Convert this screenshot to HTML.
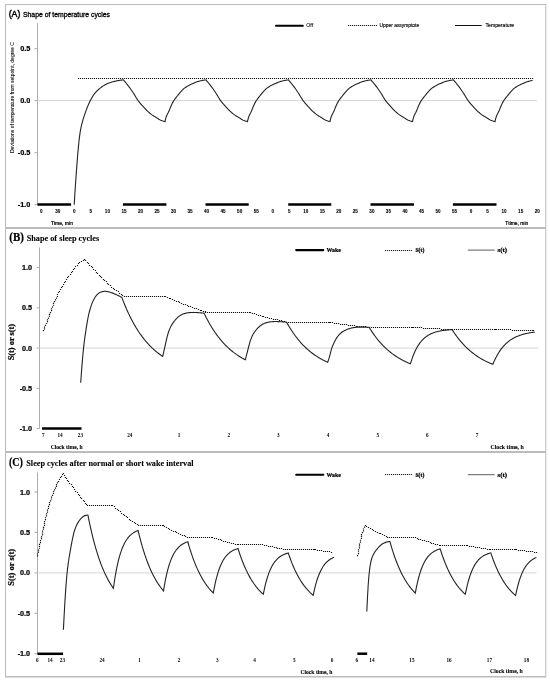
<!DOCTYPE html>
<html><head><meta charset="utf-8"><title>Temperature and sleep cycles</title>
<style>
html,body{margin:0;padding:0;background:#fff;}
body{width:550px;height:681px;overflow:hidden;font-family:"Liberation Sans",sans-serif;}
svg{display:block;will-change:transform;}
</style></head>
<body>
<svg width="550" height="681" viewBox="0 0 550 681">
<style>text{fill:#000;stroke:#000;stroke-width:0.22px;} text.ns{stroke:none;} text.ls{stroke-width:0.08px;}</style>
<rect x="0" y="0" width="550" height="681" fill="#fff"/>
<rect x="5.5" y="4.5" width="540.3" height="223.0" fill="none" stroke="#bcbcbc" stroke-width="1"/>
<rect x="5.5" y="228.5" width="540.3" height="223.0" fill="none" stroke="#bcbcbc" stroke-width="1"/>
<rect x="5.5" y="452.5" width="540.3" height="224.0" fill="none" stroke="#bcbcbc" stroke-width="1"/>
<line x1="5" y1="676.9" x2="546" y2="676.9" stroke="#bcbcbc" stroke-width="1.2"/>
<text x="8.7" y="16.7" font-family="'Liberation Sans', sans-serif" font-size="9.0" font-weight="normal" text-anchor="start" textLength="11.6" lengthAdjust="spacingAndGlyphs" style="stroke-width:0.45px">(A)</text>
<text x="23" y="16.9" font-family="'Liberation Sans', sans-serif" font-size="7.3" font-weight="normal" text-anchor="start" textLength="87" lengthAdjust="spacingAndGlyphs" style="stroke-width:0.3px">Shape of temperature cycles</text>
<line x1="276" y1="25.7" x2="302.8" y2="25.7" stroke="#000" stroke-width="2.0" stroke-linecap="round"/>
<text x="306.3" y="27.2" font-family="'Liberation Sans', sans-serif" font-size="5.2" font-weight="normal" text-anchor="start" class="ls">Off</text>
<path d="M347.90,24.90h1.2v1.2h-1.2zM349.90,24.90h1.2v1.2h-1.2zM351.90,24.90h1.2v1.2h-1.2zM353.90,24.90h1.2v1.2h-1.2zM355.90,24.90h1.2v1.2h-1.2zM357.90,24.90h1.2v1.2h-1.2zM359.90,24.90h1.2v1.2h-1.2zM361.90,24.90h1.2v1.2h-1.2zM363.90,24.90h1.2v1.2h-1.2zM365.90,24.90h1.2v1.2h-1.2zM367.90,24.90h1.2v1.2h-1.2zM369.90,24.90h1.2v1.2h-1.2zM371.90,24.90h1.2v1.2h-1.2zM373.90,24.90h1.2v1.2h-1.2zM375.90,24.90h1.2v1.2h-1.2z" fill="#222"/>
<text x="379.6" y="27.3" font-family="'Liberation Sans', sans-serif" font-size="5.0" font-weight="normal" text-anchor="start" textLength="39.5" lengthAdjust="spacingAndGlyphs" style="stroke-width:0.14px">Upper assymptote</text>
<line x1="455" y1="25.5" x2="481.7" y2="25.5" stroke="#111" stroke-width="1.0" />
<text x="485.5" y="27.1" font-family="'Liberation Sans', sans-serif" font-size="5.1" font-weight="normal" text-anchor="start" textLength="28.7" lengthAdjust="spacingAndGlyphs" style="stroke-width:0.14px">Temperature</text>
<line x1="37.5" y1="23" x2="37.5" y2="204.6" stroke="#acacac" stroke-width="1"/>
<line x1="37.4" y1="100.6" x2="537" y2="100.6" stroke="#d4d4d4" stroke-width="1" />
<line x1="34.6" y1="48.599999999999994" x2="37.4" y2="48.599999999999994" stroke="#acacac" stroke-width="1" />
<text x="30.4" y="51.199999999999996" font-family="'Liberation Sans', sans-serif" font-size="7.3" font-weight="bold" text-anchor="end" >0.5</text>
<line x1="34.6" y1="100.6" x2="37.4" y2="100.6" stroke="#acacac" stroke-width="1" />
<text x="30.4" y="103.19999999999999" font-family="'Liberation Sans', sans-serif" font-size="7.3" font-weight="bold" text-anchor="end" >0.0</text>
<line x1="34.6" y1="152.6" x2="37.4" y2="152.6" stroke="#acacac" stroke-width="1" />
<text x="30.4" y="155.2" font-family="'Liberation Sans', sans-serif" font-size="7.3" font-weight="bold" text-anchor="end" >-0.5</text>
<line x1="34.6" y1="204.6" x2="37.4" y2="204.6" stroke="#acacac" stroke-width="1" />
<text x="30.4" y="207.2" font-family="'Liberation Sans', sans-serif" font-size="7.3" font-weight="bold" text-anchor="end" >-1.0</text>
<text transform="translate(13.6,97.6) rotate(-90)" font-family="'Liberation Sans', sans-serif" font-size="5.0" text-anchor="middle" textLength="111" lengthAdjust="spacingAndGlyphs" class="ls">Deviations of temperature from setpoint,  degree C</text>
<text x="41.30" y="212.8" font-family="'Liberation Sans', sans-serif" font-size="4.6" font-weight="bold" text-anchor="middle" class="ls">0</text>
<text x="57.83" y="212.8" font-family="'Liberation Sans', sans-serif" font-size="4.6" font-weight="bold" text-anchor="middle" class="ls">30</text>
<text x="74.36" y="212.8" font-family="'Liberation Sans', sans-serif" font-size="4.6" font-weight="bold" text-anchor="middle" class="ls">0</text>
<text x="90.89" y="212.8" font-family="'Liberation Sans', sans-serif" font-size="4.6" font-weight="bold" text-anchor="middle" class="ls">5</text>
<text x="107.42" y="212.8" font-family="'Liberation Sans', sans-serif" font-size="4.6" font-weight="bold" text-anchor="middle" class="ls">10</text>
<text x="123.95" y="212.8" font-family="'Liberation Sans', sans-serif" font-size="4.6" font-weight="bold" text-anchor="middle" class="ls">15</text>
<text x="140.48" y="212.8" font-family="'Liberation Sans', sans-serif" font-size="4.6" font-weight="bold" text-anchor="middle" class="ls">20</text>
<text x="157.01" y="212.8" font-family="'Liberation Sans', sans-serif" font-size="4.6" font-weight="bold" text-anchor="middle" class="ls">25</text>
<text x="173.54" y="212.8" font-family="'Liberation Sans', sans-serif" font-size="4.6" font-weight="bold" text-anchor="middle" class="ls">30</text>
<text x="190.07" y="212.8" font-family="'Liberation Sans', sans-serif" font-size="4.6" font-weight="bold" text-anchor="middle" class="ls">35</text>
<text x="206.60" y="212.8" font-family="'Liberation Sans', sans-serif" font-size="4.6" font-weight="bold" text-anchor="middle" class="ls">40</text>
<text x="223.13" y="212.8" font-family="'Liberation Sans', sans-serif" font-size="4.6" font-weight="bold" text-anchor="middle" class="ls">45</text>
<text x="239.66" y="212.8" font-family="'Liberation Sans', sans-serif" font-size="4.6" font-weight="bold" text-anchor="middle" class="ls">50</text>
<text x="256.19" y="212.8" font-family="'Liberation Sans', sans-serif" font-size="4.6" font-weight="bold" text-anchor="middle" class="ls">55</text>
<text x="272.72" y="212.8" font-family="'Liberation Sans', sans-serif" font-size="4.6" font-weight="bold" text-anchor="middle" class="ls">0</text>
<text x="289.25" y="212.8" font-family="'Liberation Sans', sans-serif" font-size="4.6" font-weight="bold" text-anchor="middle" class="ls">5</text>
<text x="305.78" y="212.8" font-family="'Liberation Sans', sans-serif" font-size="4.6" font-weight="bold" text-anchor="middle" class="ls">10</text>
<text x="322.31" y="212.8" font-family="'Liberation Sans', sans-serif" font-size="4.6" font-weight="bold" text-anchor="middle" class="ls">15</text>
<text x="338.84" y="212.8" font-family="'Liberation Sans', sans-serif" font-size="4.6" font-weight="bold" text-anchor="middle" class="ls">20</text>
<text x="355.37" y="212.8" font-family="'Liberation Sans', sans-serif" font-size="4.6" font-weight="bold" text-anchor="middle" class="ls">25</text>
<text x="371.90" y="212.8" font-family="'Liberation Sans', sans-serif" font-size="4.6" font-weight="bold" text-anchor="middle" class="ls">30</text>
<text x="388.43" y="212.8" font-family="'Liberation Sans', sans-serif" font-size="4.6" font-weight="bold" text-anchor="middle" class="ls">35</text>
<text x="404.96" y="212.8" font-family="'Liberation Sans', sans-serif" font-size="4.6" font-weight="bold" text-anchor="middle" class="ls">40</text>
<text x="421.49" y="212.8" font-family="'Liberation Sans', sans-serif" font-size="4.6" font-weight="bold" text-anchor="middle" class="ls">45</text>
<text x="438.02" y="212.8" font-family="'Liberation Sans', sans-serif" font-size="4.6" font-weight="bold" text-anchor="middle" class="ls">50</text>
<text x="454.55" y="212.8" font-family="'Liberation Sans', sans-serif" font-size="4.6" font-weight="bold" text-anchor="middle" class="ls">55</text>
<text x="471.08" y="212.8" font-family="'Liberation Sans', sans-serif" font-size="4.6" font-weight="bold" text-anchor="middle" class="ls">0</text>
<text x="487.61" y="212.8" font-family="'Liberation Sans', sans-serif" font-size="4.6" font-weight="bold" text-anchor="middle" class="ls">5</text>
<text x="504.14" y="212.8" font-family="'Liberation Sans', sans-serif" font-size="4.6" font-weight="bold" text-anchor="middle" class="ls">10</text>
<text x="520.67" y="212.8" font-family="'Liberation Sans', sans-serif" font-size="4.6" font-weight="bold" text-anchor="middle" class="ls">15</text>
<text x="537.20" y="212.8" font-family="'Liberation Sans', sans-serif" font-size="4.6" font-weight="bold" text-anchor="middle" class="ls">20</text>
<text x="51" y="225" font-family="'Liberation Sans', sans-serif" font-size="5.1" font-weight="normal" text-anchor="start" textLength="22" lengthAdjust="spacingAndGlyphs" >Time, min</text>
<text x="505.3" y="225" font-family="'Liberation Sans', sans-serif" font-size="5.0" font-weight="normal" text-anchor="start" textLength="23" lengthAdjust="spacingAndGlyphs" >Ttime, min</text>
<line x1="37.4" y1="204.5" x2="71.1" y2="204.5" stroke="#000" stroke-width="2.5" stroke-linecap="butt"/>
<line x1="122.9" y1="204.5" x2="166.4" y2="204.5" stroke="#000" stroke-width="2.5" stroke-linecap="butt"/>
<line x1="205.5" y1="204.5" x2="248.7" y2="204.5" stroke="#000" stroke-width="2.5" stroke-linecap="butt"/>
<line x1="288.2" y1="204.5" x2="331.3" y2="204.5" stroke="#000" stroke-width="2.5" stroke-linecap="butt"/>
<line x1="370.5" y1="204.5" x2="414" y2="204.5" stroke="#000" stroke-width="2.5" stroke-linecap="butt"/>
<line x1="452.9" y1="204.5" x2="496.5" y2="204.5" stroke="#000" stroke-width="2.5" stroke-linecap="butt"/>
<path d="M77.95,77.95h1.1v1.1h-1.1zM79.95,77.95h1.1v1.1h-1.1zM81.95,77.95h1.1v1.1h-1.1zM83.95,77.95h1.1v1.1h-1.1zM85.95,77.95h1.1v1.1h-1.1zM87.95,77.95h1.1v1.1h-1.1zM89.95,77.95h1.1v1.1h-1.1zM91.95,77.95h1.1v1.1h-1.1zM93.95,77.95h1.1v1.1h-1.1zM95.95,77.95h1.1v1.1h-1.1zM97.95,77.95h1.1v1.1h-1.1zM99.95,77.95h1.1v1.1h-1.1zM101.95,77.95h1.1v1.1h-1.1zM103.95,77.95h1.1v1.1h-1.1zM105.95,77.95h1.1v1.1h-1.1zM107.95,77.95h1.1v1.1h-1.1zM109.95,77.95h1.1v1.1h-1.1zM111.95,77.95h1.1v1.1h-1.1zM113.95,77.95h1.1v1.1h-1.1zM115.95,77.95h1.1v1.1h-1.1zM117.95,77.95h1.1v1.1h-1.1zM119.95,77.95h1.1v1.1h-1.1zM121.95,77.95h1.1v1.1h-1.1zM123.95,77.95h1.1v1.1h-1.1zM125.95,77.95h1.1v1.1h-1.1zM127.95,77.95h1.1v1.1h-1.1zM129.95,77.95h1.1v1.1h-1.1zM131.95,77.95h1.1v1.1h-1.1zM133.95,77.95h1.1v1.1h-1.1zM135.95,77.95h1.1v1.1h-1.1zM137.95,77.95h1.1v1.1h-1.1zM139.95,77.95h1.1v1.1h-1.1zM141.95,77.95h1.1v1.1h-1.1zM143.95,77.95h1.1v1.1h-1.1zM145.95,77.95h1.1v1.1h-1.1zM147.95,77.95h1.1v1.1h-1.1zM149.95,77.95h1.1v1.1h-1.1zM151.95,77.95h1.1v1.1h-1.1zM153.95,77.95h1.1v1.1h-1.1zM155.95,77.95h1.1v1.1h-1.1zM157.95,77.95h1.1v1.1h-1.1zM159.95,77.95h1.1v1.1h-1.1zM161.95,77.95h1.1v1.1h-1.1zM163.95,77.95h1.1v1.1h-1.1zM165.95,77.95h1.1v1.1h-1.1zM167.95,77.95h1.1v1.1h-1.1zM169.95,77.95h1.1v1.1h-1.1zM171.95,77.95h1.1v1.1h-1.1zM173.95,77.95h1.1v1.1h-1.1zM175.95,77.95h1.1v1.1h-1.1zM177.95,77.95h1.1v1.1h-1.1zM179.95,77.95h1.1v1.1h-1.1zM181.95,77.95h1.1v1.1h-1.1zM183.95,77.95h1.1v1.1h-1.1zM185.95,77.95h1.1v1.1h-1.1zM187.95,77.95h1.1v1.1h-1.1zM189.95,77.95h1.1v1.1h-1.1zM191.95,77.95h1.1v1.1h-1.1zM193.95,77.95h1.1v1.1h-1.1zM195.95,77.95h1.1v1.1h-1.1zM197.95,77.95h1.1v1.1h-1.1zM199.95,77.95h1.1v1.1h-1.1zM201.95,77.95h1.1v1.1h-1.1zM203.95,77.95h1.1v1.1h-1.1zM205.95,77.95h1.1v1.1h-1.1zM207.95,77.95h1.1v1.1h-1.1zM209.95,77.95h1.1v1.1h-1.1zM211.95,77.95h1.1v1.1h-1.1zM213.95,77.95h1.1v1.1h-1.1zM215.95,77.95h1.1v1.1h-1.1zM217.95,77.95h1.1v1.1h-1.1zM219.95,77.95h1.1v1.1h-1.1zM221.95,77.95h1.1v1.1h-1.1zM223.95,77.95h1.1v1.1h-1.1zM225.95,77.95h1.1v1.1h-1.1zM227.95,77.95h1.1v1.1h-1.1zM229.95,77.95h1.1v1.1h-1.1zM231.95,77.95h1.1v1.1h-1.1zM233.95,77.95h1.1v1.1h-1.1zM235.95,77.95h1.1v1.1h-1.1zM237.95,77.95h1.1v1.1h-1.1zM239.95,77.95h1.1v1.1h-1.1zM241.95,77.95h1.1v1.1h-1.1zM243.95,77.95h1.1v1.1h-1.1zM245.95,77.95h1.1v1.1h-1.1zM247.95,77.95h1.1v1.1h-1.1zM249.95,77.95h1.1v1.1h-1.1zM251.95,77.95h1.1v1.1h-1.1zM253.95,77.95h1.1v1.1h-1.1zM255.95,77.95h1.1v1.1h-1.1zM257.95,77.95h1.1v1.1h-1.1zM259.95,77.95h1.1v1.1h-1.1zM261.95,77.95h1.1v1.1h-1.1zM263.95,77.95h1.1v1.1h-1.1zM265.95,77.95h1.1v1.1h-1.1zM267.95,77.95h1.1v1.1h-1.1zM269.95,77.95h1.1v1.1h-1.1zM271.95,77.95h1.1v1.1h-1.1zM273.95,77.95h1.1v1.1h-1.1zM275.95,77.95h1.1v1.1h-1.1zM277.95,77.95h1.1v1.1h-1.1zM279.95,77.95h1.1v1.1h-1.1zM281.95,77.95h1.1v1.1h-1.1zM283.95,77.95h1.1v1.1h-1.1zM285.95,77.95h1.1v1.1h-1.1zM287.95,77.95h1.1v1.1h-1.1zM289.95,77.95h1.1v1.1h-1.1zM291.95,77.95h1.1v1.1h-1.1zM293.95,77.95h1.1v1.1h-1.1zM295.95,77.95h1.1v1.1h-1.1zM297.95,77.95h1.1v1.1h-1.1zM299.95,77.95h1.1v1.1h-1.1zM301.95,77.95h1.1v1.1h-1.1zM303.95,77.95h1.1v1.1h-1.1zM305.95,77.95h1.1v1.1h-1.1zM307.95,77.95h1.1v1.1h-1.1zM309.95,77.95h1.1v1.1h-1.1zM311.95,77.95h1.1v1.1h-1.1zM313.95,77.95h1.1v1.1h-1.1zM315.95,77.95h1.1v1.1h-1.1zM317.95,77.95h1.1v1.1h-1.1zM319.95,77.95h1.1v1.1h-1.1zM321.95,77.95h1.1v1.1h-1.1zM323.95,77.95h1.1v1.1h-1.1zM325.95,77.95h1.1v1.1h-1.1zM327.95,77.95h1.1v1.1h-1.1zM329.95,77.95h1.1v1.1h-1.1zM331.95,77.95h1.1v1.1h-1.1zM333.95,77.95h1.1v1.1h-1.1zM335.95,77.95h1.1v1.1h-1.1zM337.95,77.95h1.1v1.1h-1.1zM339.95,77.95h1.1v1.1h-1.1zM341.95,77.95h1.1v1.1h-1.1zM343.95,77.95h1.1v1.1h-1.1zM345.95,77.95h1.1v1.1h-1.1zM347.95,77.95h1.1v1.1h-1.1zM349.95,77.95h1.1v1.1h-1.1zM351.95,77.95h1.1v1.1h-1.1zM353.95,77.95h1.1v1.1h-1.1zM355.95,77.95h1.1v1.1h-1.1zM357.95,77.95h1.1v1.1h-1.1zM359.95,77.95h1.1v1.1h-1.1zM361.95,77.95h1.1v1.1h-1.1zM363.95,77.95h1.1v1.1h-1.1zM365.95,77.95h1.1v1.1h-1.1zM367.95,77.95h1.1v1.1h-1.1zM369.95,77.95h1.1v1.1h-1.1zM371.95,77.95h1.1v1.1h-1.1zM373.95,77.95h1.1v1.1h-1.1zM375.95,77.95h1.1v1.1h-1.1zM377.95,77.95h1.1v1.1h-1.1zM379.95,77.95h1.1v1.1h-1.1zM381.95,77.95h1.1v1.1h-1.1zM383.95,77.95h1.1v1.1h-1.1zM385.95,77.95h1.1v1.1h-1.1zM387.95,77.95h1.1v1.1h-1.1zM389.95,77.95h1.1v1.1h-1.1zM391.95,77.95h1.1v1.1h-1.1zM393.95,77.95h1.1v1.1h-1.1zM395.95,77.95h1.1v1.1h-1.1zM397.95,77.95h1.1v1.1h-1.1zM399.95,77.95h1.1v1.1h-1.1zM401.95,77.95h1.1v1.1h-1.1zM403.95,77.95h1.1v1.1h-1.1zM405.95,77.95h1.1v1.1h-1.1zM407.95,77.95h1.1v1.1h-1.1zM409.95,77.95h1.1v1.1h-1.1zM411.95,77.95h1.1v1.1h-1.1zM413.95,77.95h1.1v1.1h-1.1zM415.95,77.95h1.1v1.1h-1.1zM417.95,77.95h1.1v1.1h-1.1zM419.95,77.95h1.1v1.1h-1.1zM421.95,77.95h1.1v1.1h-1.1zM423.95,77.95h1.1v1.1h-1.1zM425.95,77.95h1.1v1.1h-1.1zM427.95,77.95h1.1v1.1h-1.1zM429.95,77.95h1.1v1.1h-1.1zM431.95,77.95h1.1v1.1h-1.1zM433.95,77.95h1.1v1.1h-1.1zM435.95,77.95h1.1v1.1h-1.1zM437.95,77.95h1.1v1.1h-1.1zM439.95,77.95h1.1v1.1h-1.1zM441.95,77.95h1.1v1.1h-1.1zM443.95,77.95h1.1v1.1h-1.1zM445.95,77.95h1.1v1.1h-1.1zM447.95,77.95h1.1v1.1h-1.1zM449.95,77.95h1.1v1.1h-1.1zM451.95,77.95h1.1v1.1h-1.1zM453.95,77.95h1.1v1.1h-1.1zM455.95,77.95h1.1v1.1h-1.1zM457.95,77.95h1.1v1.1h-1.1zM459.95,77.95h1.1v1.1h-1.1zM461.95,77.95h1.1v1.1h-1.1zM463.95,77.95h1.1v1.1h-1.1zM465.95,77.95h1.1v1.1h-1.1zM467.95,77.95h1.1v1.1h-1.1zM469.95,77.95h1.1v1.1h-1.1zM471.95,77.95h1.1v1.1h-1.1zM473.95,77.95h1.1v1.1h-1.1zM475.95,77.95h1.1v1.1h-1.1zM477.95,77.95h1.1v1.1h-1.1zM479.95,77.95h1.1v1.1h-1.1zM481.95,77.95h1.1v1.1h-1.1zM483.95,77.95h1.1v1.1h-1.1zM485.95,77.95h1.1v1.1h-1.1zM487.95,77.95h1.1v1.1h-1.1zM489.95,77.95h1.1v1.1h-1.1zM491.95,77.95h1.1v1.1h-1.1zM493.95,77.95h1.1v1.1h-1.1zM495.95,77.95h1.1v1.1h-1.1zM497.95,77.95h1.1v1.1h-1.1zM499.95,77.95h1.1v1.1h-1.1zM501.95,77.95h1.1v1.1h-1.1zM503.95,77.95h1.1v1.1h-1.1zM505.95,77.95h1.1v1.1h-1.1zM507.95,77.95h1.1v1.1h-1.1zM509.95,77.95h1.1v1.1h-1.1zM511.95,77.95h1.1v1.1h-1.1zM513.95,77.95h1.1v1.1h-1.1zM515.95,77.95h1.1v1.1h-1.1zM517.95,77.95h1.1v1.1h-1.1zM519.95,77.95h1.1v1.1h-1.1zM521.95,77.95h1.1v1.1h-1.1zM523.95,77.95h1.1v1.1h-1.1zM525.95,77.95h1.1v1.1h-1.1zM527.95,77.95h1.1v1.1h-1.1zM529.95,77.95h1.1v1.1h-1.1zM531.95,77.95h1.1v1.1h-1.1z" fill="#111"/>
<path d="M74.20,204.60 L74.88,193.59 L75.57,183.27 L76.25,173.57 L76.94,164.41 L77.62,155.81 L78.31,148.09 L78.99,140.94 L79.68,135.34 L80.36,130.82 L81.05,127.32 L81.73,124.44 L82.42,121.88 L83.10,119.47 L83.79,117.21 L84.47,115.08 L85.16,113.07 L85.84,111.16 L86.53,109.33 L87.21,107.56 L87.89,105.86 L88.58,104.25 L89.26,102.75 L89.95,101.34 L90.63,100.01 L91.32,98.72 L92.00,97.49 L92.69,96.33 L93.37,95.26 L94.06,94.29 L94.74,93.41 L95.43,92.61 L96.11,91.85 L96.80,91.14 L97.48,90.47 L98.17,89.84 L98.85,89.24 L99.53,88.67 L100.22,88.12 L100.90,87.58 L101.59,87.06 L102.27,86.56 L102.96,86.09 L103.64,85.64 L104.33,85.22 L105.01,84.83 L105.70,84.48 L106.38,84.16 L107.07,83.84 L107.75,83.54 L108.44,83.25 L109.12,82.98 L109.81,82.72 L110.49,82.48 L111.18,82.25 L111.86,82.03 L112.54,81.84 L113.23,81.66 L113.91,81.49 L114.60,81.34 L115.28,81.18 L115.97,81.03 L116.65,80.89 L117.34,80.75 L118.02,80.61 L118.71,80.49 L119.39,80.37 L120.08,80.26 L120.76,80.17 L121.45,80.08 L122.13,80.01 L122.82,79.95 L123.50,79.90 L123.50,80.11 L124.18,80.86 L124.86,81.64 L125.54,82.43 L126.22,83.25 L126.90,84.08 L127.58,84.94 L128.26,85.81 L128.94,86.69 L129.62,87.60 L130.30,88.54 L130.98,89.50 L131.66,90.48 L132.34,91.48 L133.02,92.50 L133.70,93.53 L134.39,94.62 L135.07,95.75 L135.75,96.91 L136.43,98.04 L137.11,99.14 L137.79,100.16 L138.47,101.09 L139.15,101.96 L139.83,102.78 L140.51,103.57 L141.19,104.34 L141.87,105.09 L142.55,105.85 L143.23,106.61 L143.91,107.36 L144.59,108.11 L145.27,108.84 L145.95,109.55 L146.63,110.24 L147.31,110.90 L147.99,111.53 L148.67,112.15 L149.35,112.75 L150.03,113.33 L150.71,113.89 L151.39,114.41 L152.07,114.91 L152.75,115.37 L153.43,115.81 L154.11,116.24 L154.80,116.65 L155.48,117.06 L156.16,117.47 L156.84,117.88 L157.52,118.31 L158.20,118.74 L158.88,119.16 L159.56,119.55 L160.24,119.90 L160.92,120.20 L161.60,120.47 L162.28,120.73 L162.96,120.96 L163.64,121.17 L164.32,121.35 L165.00,121.50 L165.00,121.40 L165.68,118.69 L166.37,116.42 L167.05,114.76 L167.73,113.50 L168.42,112.29 L169.10,110.83 L169.78,109.08 L170.47,107.29 L171.15,105.68 L171.83,104.21 L172.52,102.86 L173.20,101.64 L173.88,100.55 L174.57,99.54 L175.25,98.59 L175.93,97.69 L176.62,96.82 L177.30,95.98 L177.98,95.13 L178.67,94.28 L179.35,93.44 L180.03,92.60 L180.72,91.79 L181.40,91.01 L182.08,90.27 L182.77,89.58 L183.45,88.96 L184.13,88.41 L184.82,87.90 L185.50,87.43 L186.18,86.98 L186.87,86.55 L187.55,86.14 L188.23,85.75 L188.92,85.38 L189.60,85.03 L190.28,84.69 L190.97,84.36 L191.65,84.05 L192.33,83.75 L193.02,83.45 L193.70,83.16 L194.38,82.88 L195.07,82.60 L195.75,82.33 L196.43,82.07 L197.12,81.83 L197.80,81.60 L198.48,81.38 L199.17,81.18 L199.85,81.00 L200.53,80.83 L201.22,80.68 L201.90,80.54 L202.58,80.40 L203.27,80.28 L203.95,80.17 L204.63,80.06 L205.32,79.98 L206.00,79.90 L206.00,80.11 L206.68,80.86 L207.36,81.64 L208.04,82.43 L208.72,83.25 L209.40,84.08 L210.08,84.94 L210.76,85.81 L211.44,86.69 L212.12,87.60 L212.80,88.54 L213.48,89.50 L214.16,90.48 L214.84,91.48 L215.52,92.50 L216.20,93.53 L216.89,94.62 L217.57,95.75 L218.25,96.91 L218.93,98.04 L219.61,99.14 L220.29,100.16 L220.97,101.09 L221.65,101.96 L222.33,102.78 L223.01,103.57 L223.69,104.34 L224.37,105.09 L225.05,105.85 L225.73,106.61 L226.41,107.36 L227.09,108.11 L227.77,108.84 L228.45,109.55 L229.13,110.24 L229.81,110.90 L230.49,111.53 L231.17,112.15 L231.85,112.75 L232.53,113.33 L233.21,113.89 L233.89,114.41 L234.57,114.91 L235.25,115.37 L235.93,115.81 L236.61,116.24 L237.30,116.65 L237.98,117.06 L238.66,117.47 L239.34,117.88 L240.02,118.31 L240.70,118.74 L241.38,119.16 L242.06,119.55 L242.74,119.90 L243.42,120.20 L244.10,120.47 L244.78,120.73 L245.46,120.96 L246.14,121.17 L246.82,121.35 L247.50,121.50 L247.50,121.40 L248.18,118.69 L248.87,116.42 L249.55,114.76 L250.23,113.50 L250.92,112.29 L251.60,110.83 L252.28,109.08 L252.97,107.29 L253.65,105.68 L254.33,104.21 L255.02,102.86 L255.70,101.64 L256.38,100.55 L257.07,99.54 L257.75,98.59 L258.43,97.69 L259.12,96.82 L259.80,95.98 L260.48,95.13 L261.17,94.28 L261.85,93.44 L262.53,92.60 L263.22,91.79 L263.90,91.01 L264.58,90.27 L265.27,89.58 L265.95,88.96 L266.63,88.41 L267.32,87.90 L268.00,87.43 L268.68,86.98 L269.37,86.55 L270.05,86.14 L270.73,85.75 L271.42,85.38 L272.10,85.03 L272.78,84.69 L273.47,84.36 L274.15,84.05 L274.83,83.75 L275.52,83.45 L276.20,83.16 L276.88,82.88 L277.57,82.60 L278.25,82.33 L278.93,82.07 L279.62,81.83 L280.30,81.60 L280.98,81.38 L281.67,81.18 L282.35,81.00 L283.03,80.83 L283.72,80.68 L284.40,80.54 L285.08,80.40 L285.77,80.28 L286.45,80.17 L287.13,80.06 L287.82,79.98 L288.50,79.90 L288.50,80.11 L289.18,80.86 L289.86,81.64 L290.54,82.43 L291.22,83.25 L291.90,84.08 L292.58,84.94 L293.26,85.81 L293.94,86.69 L294.62,87.60 L295.30,88.54 L295.98,89.50 L296.66,90.48 L297.34,91.48 L298.02,92.50 L298.70,93.53 L299.39,94.62 L300.07,95.75 L300.75,96.91 L301.43,98.04 L302.11,99.14 L302.79,100.16 L303.47,101.09 L304.15,101.96 L304.83,102.78 L305.51,103.57 L306.19,104.34 L306.87,105.09 L307.55,105.85 L308.23,106.61 L308.91,107.36 L309.59,108.11 L310.27,108.84 L310.95,109.55 L311.63,110.24 L312.31,110.90 L312.99,111.53 L313.67,112.15 L314.35,112.75 L315.03,113.33 L315.71,113.89 L316.39,114.41 L317.07,114.91 L317.75,115.37 L318.43,115.81 L319.11,116.24 L319.80,116.65 L320.48,117.06 L321.16,117.47 L321.84,117.88 L322.52,118.31 L323.20,118.74 L323.88,119.16 L324.56,119.55 L325.24,119.90 L325.92,120.20 L326.60,120.47 L327.28,120.73 L327.96,120.96 L328.64,121.17 L329.32,121.35 L330.00,121.50 L330.00,121.40 L330.68,118.69 L331.37,116.42 L332.05,114.76 L332.73,113.50 L333.42,112.29 L334.10,110.83 L334.78,109.08 L335.47,107.29 L336.15,105.68 L336.83,104.21 L337.52,102.86 L338.20,101.64 L338.88,100.55 L339.57,99.54 L340.25,98.59 L340.93,97.69 L341.62,96.82 L342.30,95.98 L342.98,95.13 L343.67,94.28 L344.35,93.44 L345.03,92.60 L345.72,91.79 L346.40,91.01 L347.08,90.27 L347.77,89.58 L348.45,88.96 L349.13,88.41 L349.82,87.90 L350.50,87.43 L351.18,86.98 L351.87,86.55 L352.55,86.14 L353.23,85.75 L353.92,85.38 L354.60,85.03 L355.28,84.69 L355.97,84.36 L356.65,84.05 L357.33,83.75 L358.02,83.45 L358.70,83.16 L359.38,82.88 L360.07,82.60 L360.75,82.33 L361.43,82.07 L362.12,81.83 L362.80,81.60 L363.48,81.38 L364.17,81.18 L364.85,81.00 L365.53,80.83 L366.22,80.68 L366.90,80.54 L367.58,80.40 L368.27,80.28 L368.95,80.17 L369.63,80.06 L370.32,79.98 L371.00,79.90 L371.00,80.11 L371.68,80.86 L372.36,81.64 L373.04,82.43 L373.72,83.25 L374.40,84.08 L375.08,84.94 L375.76,85.81 L376.44,86.69 L377.12,87.60 L377.80,88.54 L378.48,89.50 L379.16,90.48 L379.84,91.48 L380.52,92.50 L381.20,93.53 L381.89,94.62 L382.57,95.75 L383.25,96.91 L383.93,98.04 L384.61,99.14 L385.29,100.16 L385.97,101.09 L386.65,101.96 L387.33,102.78 L388.01,103.57 L388.69,104.34 L389.37,105.09 L390.05,105.85 L390.73,106.61 L391.41,107.36 L392.09,108.11 L392.77,108.84 L393.45,109.55 L394.13,110.24 L394.81,110.90 L395.49,111.53 L396.17,112.15 L396.85,112.75 L397.53,113.33 L398.21,113.89 L398.89,114.41 L399.57,114.91 L400.25,115.37 L400.93,115.81 L401.61,116.24 L402.30,116.65 L402.98,117.06 L403.66,117.47 L404.34,117.88 L405.02,118.31 L405.70,118.74 L406.38,119.16 L407.06,119.55 L407.74,119.90 L408.42,120.20 L409.10,120.47 L409.78,120.73 L410.46,120.96 L411.14,121.17 L411.82,121.35 L412.50,121.50 L412.50,121.40 L413.18,118.69 L413.87,116.42 L414.55,114.76 L415.23,113.50 L415.92,112.29 L416.60,110.83 L417.28,109.08 L417.97,107.29 L418.65,105.68 L419.33,104.21 L420.02,102.86 L420.70,101.64 L421.38,100.55 L422.07,99.54 L422.75,98.59 L423.43,97.69 L424.12,96.82 L424.80,95.98 L425.48,95.13 L426.17,94.28 L426.85,93.44 L427.53,92.60 L428.22,91.79 L428.90,91.01 L429.58,90.27 L430.27,89.58 L430.95,88.96 L431.63,88.41 L432.32,87.90 L433.00,87.43 L433.68,86.98 L434.37,86.55 L435.05,86.14 L435.73,85.75 L436.42,85.38 L437.10,85.03 L437.78,84.69 L438.47,84.36 L439.15,84.05 L439.83,83.75 L440.52,83.45 L441.20,83.16 L441.88,82.88 L442.57,82.60 L443.25,82.33 L443.93,82.07 L444.62,81.83 L445.30,81.60 L445.98,81.38 L446.67,81.18 L447.35,81.00 L448.03,80.83 L448.72,80.68 L449.40,80.54 L450.08,80.40 L450.77,80.28 L451.45,80.17 L452.13,80.06 L452.82,79.98 L453.50,79.90 L453.50,80.11 L454.18,80.86 L454.86,81.64 L455.54,82.43 L456.22,83.25 L456.90,84.08 L457.58,84.94 L458.26,85.81 L458.94,86.69 L459.62,87.60 L460.30,88.54 L460.98,89.50 L461.66,90.48 L462.34,91.48 L463.02,92.50 L463.70,93.53 L464.39,94.62 L465.07,95.75 L465.75,96.91 L466.43,98.04 L467.11,99.14 L467.79,100.16 L468.47,101.09 L469.15,101.96 L469.83,102.78 L470.51,103.57 L471.19,104.34 L471.87,105.09 L472.55,105.85 L473.23,106.61 L473.91,107.36 L474.59,108.11 L475.27,108.84 L475.95,109.55 L476.63,110.24 L477.31,110.90 L477.99,111.53 L478.67,112.15 L479.35,112.75 L480.03,113.33 L480.71,113.89 L481.39,114.41 L482.07,114.91 L482.75,115.37 L483.43,115.81 L484.11,116.24 L484.80,116.65 L485.48,117.06 L486.16,117.47 L486.84,117.88 L487.52,118.31 L488.20,118.74 L488.88,119.16 L489.56,119.55 L490.24,119.90 L490.92,120.20 L491.60,120.47 L492.28,120.73 L492.96,120.96 L493.64,121.17 L494.32,121.35 L495.00,121.50 L495.00,121.40 L495.68,118.69 L496.37,116.42 L497.05,114.76 L497.73,113.50 L498.42,112.29 L499.10,110.83 L499.78,109.08 L500.47,107.29 L501.15,105.68 L501.83,104.21 L502.52,102.86 L503.20,101.64 L503.88,100.55 L504.57,99.54 L505.25,98.59 L505.93,97.69 L506.62,96.82 L507.30,95.98 L507.98,95.13 L508.67,94.28 L509.35,93.44 L510.03,92.60 L510.72,91.79 L511.40,91.01 L512.08,90.27 L512.77,89.58 L513.45,88.96 L514.13,88.41 L514.82,87.90 L515.50,87.43 L516.18,86.98 L516.87,86.55 L517.55,86.14 L518.23,85.75 L518.92,85.38 L519.60,85.03 L520.28,84.69 L520.97,84.36 L521.65,84.05 L522.33,83.75 L523.02,83.45 L523.70,83.16 L524.38,82.88 L525.07,82.60 L525.75,82.33 L526.43,82.07 L527.12,81.83 L527.80,81.60 L528.48,81.38 L529.17,81.18 L529.85,81.00 L530.53,80.83 L531.22,80.68 L531.90,80.54 L532.58,80.40" fill="none" stroke="#222" stroke-width="1.1"/>
<text x="9.3" y="241.4" font-family="'Liberation Serif', serif" font-size="11.6" font-weight="bold" text-anchor="start" textLength="14.6" lengthAdjust="spacingAndGlyphs" >(B)</text>
<text x="26.7" y="241.3" font-family="'Liberation Serif', serif" font-size="8.2" font-weight="bold" text-anchor="start" textLength="72.5" lengthAdjust="spacingAndGlyphs" class="ls">Shape of sleep cycles</text>
<line x1="296.2" y1="250.1" x2="323.3" y2="250.1" stroke="#000" stroke-width="2.1" stroke-linecap="round"/>
<text x="326.6" y="252.0" font-family="'Liberation Serif', serif" font-size="5.6" font-weight="bold" text-anchor="start" textLength="14.2" lengthAdjust="spacingAndGlyphs" >Wake</text>
<path d="M384.90,249.90h1.2v1.2h-1.2zM386.90,249.90h1.2v1.2h-1.2zM388.90,249.90h1.2v1.2h-1.2zM390.90,249.90h1.2v1.2h-1.2zM392.90,249.90h1.2v1.2h-1.2zM394.90,249.90h1.2v1.2h-1.2zM396.90,249.90h1.2v1.2h-1.2zM398.90,249.90h1.2v1.2h-1.2zM400.90,249.90h1.2v1.2h-1.2zM402.90,249.90h1.2v1.2h-1.2zM404.90,249.90h1.2v1.2h-1.2zM406.90,249.90h1.2v1.2h-1.2zM408.90,249.90h1.2v1.2h-1.2zM410.90,249.90h1.2v1.2h-1.2z" fill="#222"/>
<text x="415.4" y="252.0" font-family="'Liberation Serif', serif" font-size="5.6" font-weight="bold" text-anchor="start" textLength="8.9" lengthAdjust="spacingAndGlyphs" >S(t)</text>
<line x1="467.8" y1="250.1" x2="494.6" y2="250.1" stroke="#333" stroke-width="0.8" />
<text x="497.6" y="252.0" font-family="'Liberation Serif', serif" font-size="5.6" font-weight="bold" text-anchor="start" textLength="9.5" lengthAdjust="spacingAndGlyphs" >s(t)</text>
<line x1="39.5" y1="247.4" x2="39.5" y2="428.6" stroke="#acacac" stroke-width="1"/>
<line x1="39.4" y1="348.1" x2="538.4" y2="348.1" stroke="#d4d4d4" stroke-width="1" />
<line x1="36.6" y1="267.6" x2="39.4" y2="267.6" stroke="#acacac" stroke-width="1" />
<text x="32.1" y="270.15000000000003" font-family="'Liberation Sans', sans-serif" font-size="7.2" font-weight="bold" text-anchor="end" >1.0</text>
<line x1="36.6" y1="307.85" x2="39.4" y2="307.85" stroke="#acacac" stroke-width="1" />
<text x="32.1" y="310.40000000000003" font-family="'Liberation Sans', sans-serif" font-size="7.2" font-weight="bold" text-anchor="end" >0.5</text>
<line x1="36.6" y1="348.1" x2="39.4" y2="348.1" stroke="#acacac" stroke-width="1" />
<text x="32.1" y="350.65000000000003" font-family="'Liberation Sans', sans-serif" font-size="7.2" font-weight="bold" text-anchor="end" >0.0</text>
<line x1="36.6" y1="388.35" x2="39.4" y2="388.35" stroke="#acacac" stroke-width="1" />
<text x="32.1" y="390.90000000000003" font-family="'Liberation Sans', sans-serif" font-size="7.2" font-weight="bold" text-anchor="end" >-0.5</text>
<line x1="36.6" y1="428.6" x2="39.4" y2="428.6" stroke="#acacac" stroke-width="1" />
<text x="32.1" y="431.15000000000003" font-family="'Liberation Sans', sans-serif" font-size="7.2" font-weight="bold" text-anchor="end" >-1.0</text>
<text transform="translate(14.4,342.1) rotate(-90)" font-family="'Liberation Serif', serif" font-size="7.3" font-weight="bold" text-anchor="middle" textLength="36.5" lengthAdjust="spacingAndGlyphs">S(t) or s(t)</text>
<text x="43.3" y="437" font-family="'Liberation Serif', serif" font-size="5.2" font-weight="bold" text-anchor="middle" class="ns">7</text>
<text x="60" y="437" font-family="'Liberation Serif', serif" font-size="5.2" font-weight="bold" text-anchor="middle" class="ns">14</text>
<text x="80.4" y="437" font-family="'Liberation Serif', serif" font-size="5.2" font-weight="bold" text-anchor="middle" class="ns">23</text>
<text x="129.8" y="437" font-family="'Liberation Serif', serif" font-size="5.2" font-weight="bold" text-anchor="middle" class="ns">24</text>
<text x="179" y="437" font-family="'Liberation Serif', serif" font-size="5.2" font-weight="bold" text-anchor="middle" class="ns">1</text>
<text x="228.8" y="437" font-family="'Liberation Serif', serif" font-size="5.2" font-weight="bold" text-anchor="middle" class="ns">2</text>
<text x="278.4" y="437" font-family="'Liberation Serif', serif" font-size="5.2" font-weight="bold" text-anchor="middle" class="ns">3</text>
<text x="328" y="437" font-family="'Liberation Serif', serif" font-size="5.2" font-weight="bold" text-anchor="middle" class="ns">4</text>
<text x="377.7" y="437" font-family="'Liberation Serif', serif" font-size="5.2" font-weight="bold" text-anchor="middle" class="ns">5</text>
<text x="427.4" y="437" font-family="'Liberation Serif', serif" font-size="5.2" font-weight="bold" text-anchor="middle" class="ns">6</text>
<text x="477" y="437" font-family="'Liberation Serif', serif" font-size="5.2" font-weight="bold" text-anchor="middle" class="ns">7</text>
<text x="50.7" y="449" font-family="'Liberation Serif', serif" font-size="5.6" font-weight="bold" text-anchor="start" textLength="31.9" lengthAdjust="spacingAndGlyphs" class="ls">Clock time, h</text>
<text x="490.5" y="449" font-family="'Liberation Serif', serif" font-size="5.6" font-weight="bold" text-anchor="start" textLength="33.3" lengthAdjust="spacingAndGlyphs" class="ls">Clock time, h</text>
<line x1="42" y1="428.5" x2="81.5" y2="428.5" stroke="#000" stroke-width="2.5" />
<path d="M42.90,330.10h1.2v1.2h-1.2zM43.90,328.31h1.2v1.2h-1.2zM43.90,326.51h1.2v1.2h-1.2zM44.90,324.71h1.2v1.2h-1.2zM45.90,322.90h1.2v1.2h-1.2zM46.90,321.09h1.2v1.2h-1.2zM46.90,319.27h1.2v1.2h-1.2zM47.90,317.44h1.2v1.2h-1.2zM48.90,315.60h1.2v1.2h-1.2zM48.90,313.76h1.2v1.2h-1.2zM49.90,311.93h1.2v1.2h-1.2zM50.90,310.09h1.2v1.2h-1.2zM50.90,308.26h1.2v1.2h-1.2zM51.90,306.45h1.2v1.2h-1.2zM52.90,304.63h1.2v1.2h-1.2zM52.90,302.82h1.2v1.2h-1.2zM53.90,301.02h1.2v1.2h-1.2zM54.90,299.23h1.2v1.2h-1.2zM55.90,297.45h1.2v1.2h-1.2zM56.90,295.90h1.2v1.2h-1.2zM56.90,293.90h1.2v1.2h-1.2zM57.90,291.90h1.2v1.2h-1.2zM58.90,290.90h1.2v1.2h-1.2zM59.90,288.90h1.2v1.2h-1.2zM60.90,286.90h1.2v1.2h-1.2zM61.90,285.90h1.2v1.2h-1.2zM62.90,283.90h1.2v1.2h-1.2zM63.90,281.90h1.2v1.2h-1.2zM64.90,280.90h1.2v1.2h-1.2zM65.90,278.90h1.2v1.2h-1.2zM66.90,276.90h1.2v1.2h-1.2zM67.90,275.90h1.2v1.2h-1.2zM69.90,273.90h1.2v1.2h-1.2zM70.90,271.90h1.2v1.2h-1.2zM71.90,270.90h1.2v1.2h-1.2zM72.90,268.90h1.2v1.2h-1.2zM73.90,267.90h1.2v1.2h-1.2zM74.90,265.90h1.2v1.2h-1.2zM76.90,264.90h1.2v1.2h-1.2zM77.90,262.90h1.2v1.2h-1.2zM78.90,261.90h1.2v1.2h-1.2zM80.90,260.90h1.2v1.2h-1.2zM82.90,259.90h1.2v1.2h-1.2zM83.90,258.90h1.2v1.2h-1.2zM84.90,259.90h1.2v1.2h-1.2zM86.90,261.90h1.2v1.2h-1.2zM87.90,262.90h1.2v1.2h-1.2zM88.90,264.90h1.2v1.2h-1.2zM90.90,265.90h1.2v1.2h-1.2zM91.90,266.90h1.2v1.2h-1.2zM92.90,268.90h1.2v1.2h-1.2zM94.90,269.90h1.2v1.2h-1.2zM95.90,271.90h1.2v1.2h-1.2zM96.90,272.90h1.2v1.2h-1.2zM98.90,274.90h1.2v1.2h-1.2zM99.90,275.90h1.2v1.2h-1.2zM100.90,276.90h1.2v1.2h-1.2zM102.90,278.90h1.2v1.2h-1.2zM103.90,279.90h1.2v1.2h-1.2zM105.90,280.90h1.2v1.2h-1.2zM106.90,282.90h1.2v1.2h-1.2zM107.90,283.90h1.2v1.2h-1.2zM109.90,284.90h1.2v1.2h-1.2zM110.90,286.90h1.2v1.2h-1.2zM112.90,287.90h1.2v1.2h-1.2zM113.90,288.90h1.2v1.2h-1.2zM115.90,289.90h1.2v1.2h-1.2zM117.90,290.90h1.2v1.2h-1.2zM118.90,292.90h1.2v1.2h-1.2zM120.90,293.90h1.2v1.2h-1.2zM121.90,294.90h1.2v1.2h-1.2zM123.90,295.90h1.2v1.2h-1.2zM123.92,295.93h1.15v1.15h-1.15zM125.92,295.93h1.15v1.15h-1.15zM127.92,295.93h1.15v1.15h-1.15zM129.93,295.93h1.15v1.15h-1.15zM131.93,295.93h1.15v1.15h-1.15zM133.93,295.93h1.15v1.15h-1.15zM135.93,295.93h1.15v1.15h-1.15zM137.93,295.93h1.15v1.15h-1.15zM139.93,295.93h1.15v1.15h-1.15zM141.93,295.93h1.15v1.15h-1.15zM143.93,295.93h1.15v1.15h-1.15zM145.93,295.93h1.15v1.15h-1.15zM147.93,295.93h1.15v1.15h-1.15zM149.93,295.93h1.15v1.15h-1.15zM151.93,295.93h1.15v1.15h-1.15zM153.93,295.93h1.15v1.15h-1.15zM155.93,295.93h1.15v1.15h-1.15zM157.93,295.93h1.15v1.15h-1.15zM159.93,295.93h1.15v1.15h-1.15zM161.93,295.93h1.15v1.15h-1.15zM163.93,295.93h1.15v1.15h-1.15zM164.90,295.90h1.2v1.2h-1.2zM166.90,296.90h1.2v1.2h-1.2zM168.90,297.90h1.2v1.2h-1.2zM169.90,297.90h1.2v1.2h-1.2zM171.90,298.90h1.2v1.2h-1.2zM173.90,299.90h1.2v1.2h-1.2zM175.90,300.90h1.2v1.2h-1.2zM177.90,300.90h1.2v1.2h-1.2zM178.90,301.90h1.2v1.2h-1.2zM180.90,302.90h1.2v1.2h-1.2zM182.90,303.90h1.2v1.2h-1.2zM184.90,303.90h1.2v1.2h-1.2zM186.90,304.90h1.2v1.2h-1.2zM187.90,305.90h1.2v1.2h-1.2zM189.90,305.90h1.2v1.2h-1.2zM191.90,306.90h1.2v1.2h-1.2zM193.90,307.90h1.2v1.2h-1.2zM195.90,307.90h1.2v1.2h-1.2zM197.90,308.90h1.2v1.2h-1.2zM199.90,309.90h1.2v1.2h-1.2zM200.90,309.90h1.2v1.2h-1.2zM202.90,310.90h1.2v1.2h-1.2zM204.90,310.90h1.2v1.2h-1.2zM204.93,311.93h1.15v1.15h-1.15zM206.93,311.93h1.15v1.15h-1.15zM208.93,311.93h1.15v1.15h-1.15zM210.93,311.93h1.15v1.15h-1.15zM212.93,311.93h1.15v1.15h-1.15zM214.93,311.93h1.15v1.15h-1.15zM216.93,311.93h1.15v1.15h-1.15zM218.93,311.93h1.15v1.15h-1.15zM220.93,311.93h1.15v1.15h-1.15zM222.93,311.93h1.15v1.15h-1.15zM224.93,311.93h1.15v1.15h-1.15zM226.93,311.93h1.15v1.15h-1.15zM228.93,311.93h1.15v1.15h-1.15zM230.93,311.93h1.15v1.15h-1.15zM232.93,311.93h1.15v1.15h-1.15zM234.93,311.93h1.15v1.15h-1.15zM236.93,311.93h1.15v1.15h-1.15zM238.93,311.93h1.15v1.15h-1.15zM240.93,311.93h1.15v1.15h-1.15zM242.93,311.93h1.15v1.15h-1.15zM244.93,311.93h1.15v1.15h-1.15zM246.93,311.93h1.15v1.15h-1.15zM248.90,311.90h1.2v1.2h-1.2zM249.90,311.90h1.2v1.2h-1.2zM251.90,312.90h1.2v1.2h-1.2zM253.90,312.90h1.2v1.2h-1.2zM255.90,313.90h1.2v1.2h-1.2zM257.90,314.90h1.2v1.2h-1.2zM259.90,314.90h1.2v1.2h-1.2zM261.90,315.90h1.2v1.2h-1.2zM262.90,315.90h1.2v1.2h-1.2zM264.90,316.90h1.2v1.2h-1.2zM266.90,316.90h1.2v1.2h-1.2zM268.90,317.90h1.2v1.2h-1.2zM270.90,317.90h1.2v1.2h-1.2zM272.90,318.90h1.2v1.2h-1.2zM274.90,318.90h1.2v1.2h-1.2zM276.90,318.90h1.2v1.2h-1.2zM278.90,319.90h1.2v1.2h-1.2zM280.90,319.90h1.2v1.2h-1.2zM281.90,320.90h1.2v1.2h-1.2zM283.90,320.90h1.2v1.2h-1.2zM285.93,321.93h1.15v1.15h-1.15zM287.93,321.93h1.15v1.15h-1.15zM289.93,321.93h1.15v1.15h-1.15zM291.93,321.93h1.15v1.15h-1.15zM293.93,321.93h1.15v1.15h-1.15zM295.93,321.93h1.15v1.15h-1.15zM297.93,321.93h1.15v1.15h-1.15zM299.93,321.93h1.15v1.15h-1.15zM301.93,321.93h1.15v1.15h-1.15zM303.93,321.93h1.15v1.15h-1.15zM305.93,321.93h1.15v1.15h-1.15zM307.93,321.93h1.15v1.15h-1.15zM309.93,321.93h1.15v1.15h-1.15zM311.93,321.93h1.15v1.15h-1.15zM313.93,321.93h1.15v1.15h-1.15zM315.93,321.93h1.15v1.15h-1.15zM317.93,321.93h1.15v1.15h-1.15zM319.93,321.93h1.15v1.15h-1.15zM321.93,321.93h1.15v1.15h-1.15zM323.93,321.93h1.15v1.15h-1.15zM325.93,321.93h1.15v1.15h-1.15zM327.93,321.93h1.15v1.15h-1.15zM328.90,321.90h1.2v1.2h-1.2zM329.90,321.90h1.2v1.2h-1.2zM331.90,321.90h1.2v1.2h-1.2zM333.90,322.90h1.2v1.2h-1.2zM335.90,322.90h1.2v1.2h-1.2zM337.90,322.90h1.2v1.2h-1.2zM339.90,323.90h1.2v1.2h-1.2zM341.90,323.90h1.2v1.2h-1.2zM343.90,323.90h1.2v1.2h-1.2zM345.90,323.90h1.2v1.2h-1.2zM347.90,324.90h1.2v1.2h-1.2zM349.90,324.90h1.2v1.2h-1.2zM351.90,324.90h1.2v1.2h-1.2zM353.90,324.90h1.2v1.2h-1.2zM355.90,325.90h1.2v1.2h-1.2zM356.90,325.90h1.2v1.2h-1.2zM358.90,325.90h1.2v1.2h-1.2zM360.90,325.90h1.2v1.2h-1.2zM362.90,325.90h1.2v1.2h-1.2zM364.90,325.90h1.2v1.2h-1.2zM366.90,326.90h1.2v1.2h-1.2zM368.93,326.93h1.15v1.15h-1.15zM370.93,326.93h1.15v1.15h-1.15zM372.93,326.93h1.15v1.15h-1.15zM374.93,326.93h1.15v1.15h-1.15zM376.93,326.93h1.15v1.15h-1.15zM378.93,326.93h1.15v1.15h-1.15zM380.93,326.93h1.15v1.15h-1.15zM382.93,326.93h1.15v1.15h-1.15zM384.93,326.93h1.15v1.15h-1.15zM386.93,326.93h1.15v1.15h-1.15zM388.93,326.93h1.15v1.15h-1.15zM390.93,326.93h1.15v1.15h-1.15zM392.93,326.93h1.15v1.15h-1.15zM394.93,326.93h1.15v1.15h-1.15zM396.93,326.93h1.15v1.15h-1.15zM398.93,326.93h1.15v1.15h-1.15zM400.93,326.93h1.15v1.15h-1.15zM402.93,326.93h1.15v1.15h-1.15zM404.93,326.93h1.15v1.15h-1.15zM406.93,326.93h1.15v1.15h-1.15zM408.93,326.93h1.15v1.15h-1.15zM410.93,326.93h1.15v1.15h-1.15zM411.90,326.90h1.2v1.2h-1.2zM412.90,326.90h1.2v1.2h-1.2zM414.90,326.90h1.2v1.2h-1.2zM416.90,326.90h1.2v1.2h-1.2zM418.90,326.90h1.2v1.2h-1.2zM420.90,326.90h1.2v1.2h-1.2zM422.90,327.90h1.2v1.2h-1.2zM424.90,327.90h1.2v1.2h-1.2zM426.90,327.90h1.2v1.2h-1.2zM428.90,327.90h1.2v1.2h-1.2zM430.90,327.90h1.2v1.2h-1.2zM432.90,327.90h1.2v1.2h-1.2zM434.90,327.90h1.2v1.2h-1.2zM436.90,327.90h1.2v1.2h-1.2zM438.90,327.90h1.2v1.2h-1.2zM440.90,328.90h1.2v1.2h-1.2zM442.90,328.90h1.2v1.2h-1.2zM444.90,328.90h1.2v1.2h-1.2zM446.90,328.90h1.2v1.2h-1.2zM447.90,328.90h1.2v1.2h-1.2zM449.90,328.90h1.2v1.2h-1.2zM451.93,328.93h1.15v1.15h-1.15zM453.93,328.93h1.15v1.15h-1.15zM455.93,328.93h1.15v1.15h-1.15zM457.93,328.93h1.15v1.15h-1.15zM459.93,328.93h1.15v1.15h-1.15zM461.93,328.93h1.15v1.15h-1.15zM463.93,328.93h1.15v1.15h-1.15zM465.93,328.93h1.15v1.15h-1.15zM467.93,328.93h1.15v1.15h-1.15zM469.93,328.93h1.15v1.15h-1.15zM471.93,328.93h1.15v1.15h-1.15zM473.93,328.93h1.15v1.15h-1.15zM475.93,328.93h1.15v1.15h-1.15zM477.93,328.93h1.15v1.15h-1.15zM479.93,328.93h1.15v1.15h-1.15zM481.93,328.93h1.15v1.15h-1.15zM483.93,328.93h1.15v1.15h-1.15zM485.93,328.93h1.15v1.15h-1.15zM487.93,328.93h1.15v1.15h-1.15zM489.93,328.93h1.15v1.15h-1.15zM491.93,328.93h1.15v1.15h-1.15zM493.93,328.93h1.15v1.15h-1.15zM494.90,328.90h1.2v1.2h-1.2zM495.90,328.90h1.2v1.2h-1.2zM497.90,328.90h1.2v1.2h-1.2zM499.90,328.90h1.2v1.2h-1.2zM501.90,328.90h1.2v1.2h-1.2zM503.90,328.90h1.2v1.2h-1.2zM505.90,328.90h1.2v1.2h-1.2zM507.90,328.90h1.2v1.2h-1.2zM509.90,328.90h1.2v1.2h-1.2zM511.90,329.90h1.2v1.2h-1.2zM513.90,329.90h1.2v1.2h-1.2zM515.90,329.90h1.2v1.2h-1.2zM517.90,329.90h1.2v1.2h-1.2zM519.90,329.90h1.2v1.2h-1.2zM521.90,329.90h1.2v1.2h-1.2zM523.90,329.90h1.2v1.2h-1.2zM525.90,329.90h1.2v1.2h-1.2zM527.90,329.90h1.2v1.2h-1.2zM529.90,329.90h1.2v1.2h-1.2zM531.90,329.90h1.2v1.2h-1.2zM532.90,329.90h1.2v1.2h-1.2z" fill="#111"/>
<path d="M80.70,382.70 L81.38,373.17 L82.07,364.40 L82.75,356.44 L83.43,349.34 L84.12,343.13 L84.80,337.79 L85.48,333.06 L86.17,328.68 L86.85,324.43 L87.53,320.40 L88.22,316.76 L88.90,313.69 L89.58,311.00 L90.27,308.54 L90.95,306.33 L91.63,304.37 L92.32,302.66 L93.00,301.13 L93.68,299.72 L94.37,298.43 L95.05,297.28 L95.73,296.29 L96.42,295.47 L97.10,294.74 L97.78,294.05 L98.47,293.44 L99.15,292.90 L99.83,292.47 L100.52,292.16 L101.20,291.95 L101.88,291.76 L102.57,291.60 L103.25,291.46 L103.93,291.36 L104.62,291.31 L105.30,291.31 L105.98,291.35 L106.67,291.44 L107.35,291.57 L108.03,291.72 L108.72,291.90 L109.40,292.08 L110.08,292.27 L110.77,292.46 L111.45,292.66 L112.13,292.88 L112.82,293.13 L113.50,293.39 L114.18,293.68 L114.87,293.98 L115.55,294.28 L116.23,294.59 L116.92,294.90 L117.60,295.22 L118.28,295.55 L118.97,295.90 L119.65,296.26 L120.33,296.63 L121.02,297.01 L121.70,297.40 L121.80,297.30 L122.48,299.10 L123.16,300.87 L123.84,302.60 L124.53,304.29 L125.21,305.94 L125.89,307.55 L126.57,309.12 L127.25,310.66 L127.94,312.16 L128.62,313.63 L129.30,315.06 L129.98,316.46 L130.66,317.82 L131.34,319.16 L132.03,320.47 L132.71,321.74 L133.39,322.99 L134.07,324.20 L134.75,325.39 L135.43,326.55 L136.12,327.69 L136.80,328.80 L137.48,329.88 L138.16,330.94 L138.84,331.97 L139.52,332.98 L140.20,333.97 L140.89,334.93 L141.57,335.87 L142.25,336.79 L142.93,337.69 L143.61,338.57 L144.29,339.42 L144.98,340.26 L145.66,341.08 L146.34,341.88 L147.02,342.66 L147.70,343.42 L148.38,344.17 L149.07,344.90 L149.75,345.61 L150.43,346.30 L151.11,346.98 L151.79,347.65 L152.47,348.29 L153.16,348.93 L153.84,349.55 L154.52,350.15 L155.20,350.74 L155.88,351.32 L156.56,351.88 L157.25,352.43 L157.93,352.97 L158.61,353.49 L159.29,354.01 L159.97,354.51 L160.65,355.00 L161.34,355.48 L162.02,355.95 L162.70,356.40 L163.38,353.39 L164.06,350.38 L164.74,347.36 L165.41,344.33 L166.09,341.36 L166.77,338.36 L167.45,335.57 L168.13,333.29 L168.81,331.24 L169.49,329.43 L170.17,327.86 L170.84,326.49 L171.52,325.25 L172.20,324.13 L172.88,323.10 L173.56,322.14 L174.24,321.23 L174.92,320.35 L175.60,319.52 L176.27,318.75 L176.95,318.04 L177.63,317.41 L178.31,316.86 L178.99,316.34 L179.67,315.86 L180.35,315.42 L181.02,315.02 L181.70,314.66 L182.38,314.36 L183.06,314.09 L183.74,313.84 L184.42,313.60 L185.10,313.39 L185.78,313.20 L186.45,313.04 L187.13,312.91 L187.81,312.82 L188.49,312.74 L189.17,312.66 L189.85,312.59 L190.53,312.53 L191.20,312.48 L191.88,312.44 L192.56,312.43 L193.24,312.42 L193.92,312.44 L194.60,312.46 L195.28,312.49 L195.96,312.53 L196.63,312.57 L197.31,312.62 L197.99,312.66 L198.67,312.71 L199.35,312.75 L200.03,312.81 L200.71,312.86 L201.39,312.92 L202.06,312.99 L202.74,313.05 L203.42,313.13 L204.10,313.20 L204.79,314.62 L205.47,316.02 L206.16,317.38 L206.85,318.71 L207.53,320.01 L208.22,321.28 L208.91,322.52 L209.59,323.73 L210.28,324.92 L210.97,326.07 L211.65,327.20 L212.34,328.30 L213.03,329.38 L213.71,330.44 L214.40,331.47 L215.09,332.47 L215.77,333.45 L216.46,334.41 L217.15,335.35 L217.83,336.27 L218.52,337.16 L219.21,338.03 L219.89,338.89 L220.58,339.72 L221.27,340.54 L221.95,341.33 L222.64,342.11 L223.33,342.87 L224.01,343.61 L224.70,344.34 L225.39,345.05 L226.07,345.74 L226.76,346.41 L227.45,347.07 L228.13,347.72 L228.82,348.35 L229.51,348.97 L230.19,349.57 L230.88,350.16 L231.57,350.73 L232.25,351.29 L232.94,351.84 L233.63,352.37 L234.31,352.90 L235.00,353.41 L235.69,353.91 L236.37,354.40 L237.06,354.87 L237.75,355.34 L238.43,355.79 L239.12,356.24 L239.81,356.67 L240.49,357.09 L241.18,357.51 L241.87,357.91 L242.55,358.31 L243.24,358.69 L243.93,359.07 L244.61,359.44 L245.30,359.80 L245.99,357.14 L246.68,354.47 L247.37,351.80 L248.05,349.12 L248.74,346.49 L249.43,343.84 L250.12,341.42 L250.81,339.43 L251.50,337.65 L252.18,336.08 L252.87,334.73 L253.56,333.54 L254.25,332.47 L254.94,331.50 L255.62,330.60 L256.31,329.77 L257.00,328.97 L257.69,328.20 L258.38,327.48 L259.07,326.82 L259.75,326.22 L260.44,325.68 L261.13,325.21 L261.82,324.76 L262.51,324.35 L263.20,323.98 L263.88,323.64 L264.57,323.34 L265.26,323.09 L265.95,322.86 L266.64,322.65 L267.33,322.45 L268.02,322.27 L268.70,322.12 L269.39,321.99 L270.08,321.90 L270.77,321.82 L271.46,321.75 L272.15,321.69 L272.83,321.63 L273.52,321.58 L274.21,321.55 L274.90,321.53 L275.59,321.52 L276.28,321.53 L276.96,321.55 L277.65,321.58 L278.34,321.61 L279.03,321.65 L279.72,321.69 L280.41,321.73 L281.09,321.76 L281.78,321.81 L282.47,321.85 L283.16,321.90 L283.85,321.95 L284.54,322.01 L285.22,322.07 L285.91,322.13 L286.60,322.20 L287.29,323.42 L287.97,324.62 L288.66,325.80 L289.34,326.94 L290.03,328.06 L290.71,329.15 L291.40,330.22 L292.08,331.26 L292.77,332.28 L293.45,333.28 L294.13,334.25 L294.82,335.20 L295.50,336.13 L296.19,337.03 L296.88,337.92 L297.56,338.78 L298.25,339.63 L298.93,340.45 L299.62,341.26 L300.30,342.05 L300.99,342.82 L301.67,343.57 L302.36,344.30 L303.04,345.02 L303.73,345.72 L304.41,346.41 L305.10,347.08 L305.78,347.73 L306.47,348.37 L307.15,348.99 L307.83,349.60 L308.52,350.20 L309.20,350.78 L309.89,351.35 L310.57,351.90 L311.26,352.45 L311.94,352.98 L312.63,353.50 L313.31,354.00 L314.00,354.49 L314.69,354.98 L315.37,355.45 L316.06,355.91 L316.74,356.36 L317.43,356.80 L318.11,357.23 L318.80,357.65 L319.48,358.06 L320.16,358.46 L320.85,358.85 L321.53,359.23 L322.22,359.61 L322.90,359.97 L323.59,360.33 L324.27,360.68 L324.96,361.02 L325.64,361.35 L326.33,361.67 L327.01,361.99 L327.70,362.30 L328.38,360.32 L329.06,358.16 L329.74,355.81 L330.41,353.06 L331.09,350.40 L331.77,348.26 L332.45,346.39 L333.13,344.70 L333.81,343.17 L334.49,341.78 L335.17,340.47 L335.84,339.24 L336.52,338.11 L337.20,337.11 L337.88,336.24 L338.56,335.44 L339.24,334.69 L339.92,333.99 L340.60,333.34 L341.27,332.75 L341.95,332.20 L342.63,331.71 L343.31,331.28 L343.99,330.89 L344.67,330.53 L345.35,330.19 L346.02,329.88 L346.70,329.59 L347.38,329.33 L348.06,329.09 L348.74,328.87 L349.42,328.66 L350.10,328.45 L350.78,328.25 L351.45,328.06 L352.13,327.89 L352.81,327.73 L353.49,327.60 L354.17,327.49 L354.85,327.42 L355.53,327.36 L356.20,327.31 L356.88,327.26 L357.56,327.22 L358.24,327.18 L358.92,327.15 L359.60,327.12 L360.28,327.10 L360.96,327.09 L361.63,327.09 L362.31,327.09 L362.99,327.10 L363.67,327.10 L364.35,327.11 L365.03,327.12 L365.71,327.14 L366.39,327.16 L367.06,327.19 L367.74,327.22 L368.42,327.26 L369.10,327.30 L369.79,328.41 L370.48,329.51 L371.17,330.57 L371.85,331.62 L372.54,332.64 L373.23,333.63 L373.92,334.60 L374.61,335.55 L375.30,336.48 L375.98,337.38 L376.67,338.27 L377.36,339.13 L378.05,339.98 L378.74,340.80 L379.43,341.61 L380.11,342.39 L380.80,343.16 L381.49,343.91 L382.18,344.65 L382.87,345.37 L383.56,346.07 L384.24,346.75 L384.93,347.42 L385.62,348.07 L386.31,348.71 L387.00,349.34 L387.69,349.94 L388.37,350.54 L389.06,351.12 L389.75,351.69 L390.44,352.24 L391.13,352.79 L391.81,353.32 L392.50,353.83 L393.19,354.34 L393.88,354.83 L394.57,355.31 L395.26,355.79 L395.94,356.25 L396.63,356.70 L397.32,357.13 L398.01,357.56 L398.70,357.98 L399.39,358.39 L400.07,358.79 L400.76,359.18 L401.45,359.57 L402.14,359.94 L402.83,360.30 L403.52,360.66 L404.20,361.01 L404.89,361.35 L405.58,361.68 L406.27,362.00 L406.96,362.32 L407.65,362.63 L408.33,362.93 L409.02,363.23 L409.71,363.52 L410.40,363.80 L411.08,361.64 L411.77,359.57 L412.45,357.61 L413.13,355.77 L413.82,354.06 L414.50,352.47 L415.19,350.99 L415.87,349.58 L416.55,348.27 L417.24,347.04 L417.92,345.90 L418.60,344.83 L419.29,343.82 L419.97,342.87 L420.65,341.99 L421.34,341.16 L422.02,340.39 L422.70,339.67 L423.39,338.99 L424.07,338.35 L424.76,337.75 L425.44,337.19 L426.12,336.67 L426.81,336.19 L427.49,335.73 L428.17,335.29 L428.86,334.89 L429.54,334.52 L430.22,334.17 L430.91,333.84 L431.59,333.52 L432.28,333.23 L432.96,332.96 L433.64,332.71 L434.33,332.47 L435.01,332.25 L435.69,332.04 L436.38,331.84 L437.06,331.66 L437.74,331.49 L438.43,331.33 L439.11,331.18 L439.80,331.04 L440.48,330.91 L441.16,330.78 L441.85,330.67 L442.53,330.56 L443.21,330.46 L443.90,330.36 L444.58,330.27 L445.26,330.19 L445.95,330.11 L446.63,330.04 L447.31,329.97 L448.00,329.91 L448.68,329.85 L449.37,329.79 L450.05,329.74 L450.73,329.69 L451.42,329.64 L452.10,329.60 L452.78,330.66 L453.46,331.70 L454.14,332.71 L454.81,333.70 L455.49,334.67 L456.17,335.62 L456.85,336.54 L457.53,337.44 L458.21,338.32 L458.88,339.19 L459.56,340.03 L460.24,340.85 L460.92,341.65 L461.60,342.44 L462.28,343.20 L462.95,343.95 L463.63,344.68 L464.31,345.40 L464.99,346.09 L465.67,346.78 L466.35,347.44 L467.02,348.09 L467.70,348.73 L468.38,349.35 L469.06,349.96 L469.74,350.55 L470.42,351.13 L471.09,351.69 L471.77,352.25 L472.45,352.79 L473.13,353.31 L473.81,353.83 L474.49,354.33 L475.16,354.82 L475.84,355.30 L476.52,355.77 L477.20,356.23 L477.88,356.68 L478.56,357.12 L479.23,357.55 L479.91,357.96 L480.59,358.37 L481.27,358.77 L481.95,359.16 L482.62,359.54 L483.30,359.91 L483.98,360.28 L484.66,360.63 L485.34,360.98 L486.02,361.31 L486.69,361.65 L487.37,361.97 L488.05,362.28 L488.73,362.59 L489.41,362.89 L490.09,363.19 L490.76,363.48 L491.44,363.76 L492.12,364.03 L492.80,364.30 L493.49,362.70 L494.18,361.15 L494.87,359.67 L495.55,358.25 L496.24,356.91 L496.93,355.64 L497.62,354.43 L498.31,353.28 L499.00,352.18 L499.69,351.13 L500.37,350.14 L501.06,349.20 L501.75,348.30 L502.44,347.44 L503.13,346.62 L503.82,345.84 L504.50,345.10 L505.19,344.40 L505.88,343.73 L506.57,343.08 L507.26,342.48 L507.95,341.90 L508.64,341.35 L509.32,340.82 L510.01,340.32 L510.70,339.85 L511.39,339.39 L512.08,338.96 L512.77,338.55 L513.46,338.16 L514.14,337.79 L514.83,337.44 L515.52,337.10 L516.21,336.78 L516.90,336.47 L517.59,336.18 L518.28,335.90 L518.96,335.64 L519.65,335.39 L520.34,335.15 L521.03,334.92 L521.72,334.71 L522.41,334.50 L523.10,334.31 L523.78,334.12 L524.47,333.94 L525.16,333.77 L525.85,333.61 L526.54,333.46 L527.23,333.31 L527.91,333.17 L528.60,333.04 L529.29,332.91 L529.98,332.79 L530.67,332.68 L531.36,332.57 L532.05,332.47 L532.73,332.37 L533.42,332.27 L534.11,332.18 L534.80,332.10" fill="none" stroke="#222" stroke-width="1.1"/>
<text x="8.9" y="465.8" font-family="'Liberation Serif', serif" font-size="11.6" font-weight="bold" text-anchor="start" textLength="14.1" lengthAdjust="spacingAndGlyphs" >(C)</text>
<text x="26.3" y="465.8" font-family="'Liberation Serif', serif" font-size="8.2" font-weight="bold" text-anchor="start" textLength="167.3" lengthAdjust="spacingAndGlyphs" class="ls">Sleep cycles after normal or short wake interval</text>
<line x1="296.2" y1="474.7" x2="323.3" y2="474.7" stroke="#000" stroke-width="2.1" stroke-linecap="round"/>
<text x="326.6" y="476.59999999999997" font-family="'Liberation Serif', serif" font-size="5.6" font-weight="bold" text-anchor="start" textLength="14.2" lengthAdjust="spacingAndGlyphs" >Wake</text>
<path d="M384.90,473.90h1.2v1.2h-1.2zM386.90,473.90h1.2v1.2h-1.2zM388.90,473.90h1.2v1.2h-1.2zM390.90,473.90h1.2v1.2h-1.2zM392.90,473.90h1.2v1.2h-1.2zM394.90,473.90h1.2v1.2h-1.2zM396.90,473.90h1.2v1.2h-1.2zM398.90,473.90h1.2v1.2h-1.2zM400.90,473.90h1.2v1.2h-1.2zM402.90,473.90h1.2v1.2h-1.2zM404.90,473.90h1.2v1.2h-1.2zM406.90,473.90h1.2v1.2h-1.2zM408.90,473.90h1.2v1.2h-1.2zM410.90,473.90h1.2v1.2h-1.2z" fill="#222"/>
<text x="415.4" y="476.59999999999997" font-family="'Liberation Serif', serif" font-size="5.6" font-weight="bold" text-anchor="start" textLength="8.9" lengthAdjust="spacingAndGlyphs" >S(t)</text>
<line x1="467.8" y1="474.7" x2="494.6" y2="474.7" stroke="#333" stroke-width="0.8" />
<text x="497.6" y="476.59999999999997" font-family="'Liberation Serif', serif" font-size="5.6" font-weight="bold" text-anchor="start" textLength="9.5" lengthAdjust="spacingAndGlyphs" >s(t)</text>
<line x1="37.5" y1="472.4" x2="37.5" y2="653.7" stroke="#acacac" stroke-width="1"/>
<line x1="37.3" y1="572.9" x2="536.6" y2="572.9" stroke="#d4d4d4" stroke-width="1" />
<line x1="34.5" y1="492.0" x2="37.3" y2="492.0" stroke="#acacac" stroke-width="1" />
<text x="30.1" y="494.55" font-family="'Liberation Sans', sans-serif" font-size="7.2" font-weight="bold" text-anchor="end" >1.0</text>
<line x1="34.5" y1="532.4499999999999" x2="37.3" y2="532.4499999999999" stroke="#acacac" stroke-width="1" />
<text x="30.1" y="534.9999999999999" font-family="'Liberation Sans', sans-serif" font-size="7.2" font-weight="bold" text-anchor="end" >0.5</text>
<line x1="34.5" y1="572.9" x2="37.3" y2="572.9" stroke="#acacac" stroke-width="1" />
<text x="30.1" y="575.4499999999999" font-family="'Liberation Sans', sans-serif" font-size="7.2" font-weight="bold" text-anchor="end" >0.0</text>
<line x1="34.5" y1="613.35" x2="37.3" y2="613.35" stroke="#acacac" stroke-width="1" />
<text x="30.1" y="615.9" font-family="'Liberation Sans', sans-serif" font-size="7.2" font-weight="bold" text-anchor="end" >-0.5</text>
<line x1="34.5" y1="653.8" x2="37.3" y2="653.8" stroke="#acacac" stroke-width="1" />
<text x="30.1" y="656.3499999999999" font-family="'Liberation Sans', sans-serif" font-size="7.2" font-weight="bold" text-anchor="end" >-1.0</text>
<text transform="translate(14.2,567.3) rotate(-90)" font-family="'Liberation Serif', serif" font-size="7.3" font-weight="bold" text-anchor="middle" textLength="36.7" lengthAdjust="spacingAndGlyphs">S(t) or s(t)</text>
<text x="37.4" y="661.8" font-family="'Liberation Serif', serif" font-size="5.2" font-weight="bold" text-anchor="middle" class="ns">6</text>
<text x="50" y="661.8" font-family="'Liberation Serif', serif" font-size="5.2" font-weight="bold" text-anchor="middle" class="ns">14</text>
<text x="62.4" y="661.8" font-family="'Liberation Serif', serif" font-size="5.2" font-weight="bold" text-anchor="middle" class="ns">23</text>
<text x="102" y="661.8" font-family="'Liberation Serif', serif" font-size="5.2" font-weight="bold" text-anchor="middle" class="ns">24</text>
<text x="139.6" y="661.8" font-family="'Liberation Serif', serif" font-size="5.2" font-weight="bold" text-anchor="middle" class="ns">1</text>
<text x="179" y="661.8" font-family="'Liberation Serif', serif" font-size="5.2" font-weight="bold" text-anchor="middle" class="ns">2</text>
<text x="217.2" y="661.8" font-family="'Liberation Serif', serif" font-size="5.2" font-weight="bold" text-anchor="middle" class="ns">3</text>
<text x="254.5" y="661.8" font-family="'Liberation Serif', serif" font-size="5.2" font-weight="bold" text-anchor="middle" class="ns">4</text>
<text x="294.3" y="661.8" font-family="'Liberation Serif', serif" font-size="5.2" font-weight="bold" text-anchor="middle" class="ns">5</text>
<text x="332.1" y="661.8" font-family="'Liberation Serif', serif" font-size="5.2" font-weight="bold" text-anchor="middle" class="ns">6</text>
<text x="356.8" y="661.8" font-family="'Liberation Serif', serif" font-size="5.2" font-weight="bold" text-anchor="middle" class="ns">6</text>
<text x="371.9" y="661.8" font-family="'Liberation Serif', serif" font-size="5.2" font-weight="bold" text-anchor="middle" class="ns">14</text>
<text x="411.9" y="661.8" font-family="'Liberation Serif', serif" font-size="5.2" font-weight="bold" text-anchor="middle" class="ns">15</text>
<text x="449" y="661.8" font-family="'Liberation Serif', serif" font-size="5.2" font-weight="bold" text-anchor="middle" class="ns">16</text>
<text x="489.4" y="661.8" font-family="'Liberation Serif', serif" font-size="5.2" font-weight="bold" text-anchor="middle" class="ns">17</text>
<text x="526.4" y="661.8" font-family="'Liberation Serif', serif" font-size="5.2" font-weight="bold" text-anchor="middle" class="ns">18</text>
<text x="300.4" y="673.5" font-family="'Liberation Serif', serif" font-size="5.6" font-weight="bold" text-anchor="start" textLength="32.1" lengthAdjust="spacingAndGlyphs" class="ls">Clock time, h</text>
<text x="490" y="673" font-family="'Liberation Serif', serif" font-size="5.6" font-weight="bold" text-anchor="start" textLength="32.8" lengthAdjust="spacingAndGlyphs" class="ls">Clock time, h</text>
<line x1="37.4" y1="653.8" x2="63.1" y2="653.8" stroke="#000" stroke-width="2.5" />
<line x1="357.4" y1="653.7" x2="367.2" y2="653.7" stroke="#000" stroke-width="2.5" />
<path d="M36.90,555.30h1.2v1.2h-1.2zM36.90,553.39h1.2v1.2h-1.2zM37.90,551.48h1.2v1.2h-1.2zM37.90,549.57h1.2v1.2h-1.2zM38.90,547.66h1.2v1.2h-1.2zM38.90,545.75h1.2v1.2h-1.2zM38.90,543.85h1.2v1.2h-1.2zM39.90,541.94h1.2v1.2h-1.2zM39.90,540.03h1.2v1.2h-1.2zM40.90,538.12h1.2v1.2h-1.2zM40.90,536.22h1.2v1.2h-1.2zM41.90,534.31h1.2v1.2h-1.2zM41.90,532.41h1.2v1.2h-1.2zM41.90,530.50h1.2v1.2h-1.2zM42.90,528.60h1.2v1.2h-1.2zM42.90,526.69h1.2v1.2h-1.2zM43.90,524.78h1.2v1.2h-1.2zM43.90,522.88h1.2v1.2h-1.2zM43.90,520.97h1.2v1.2h-1.2zM44.90,519.07h1.2v1.2h-1.2zM44.90,517.16h1.2v1.2h-1.2zM45.90,515.26h1.2v1.2h-1.2zM45.90,513.37h1.2v1.2h-1.2zM46.90,511.47h1.2v1.2h-1.2zM46.90,509.59h1.2v1.2h-1.2zM47.90,507.71h1.2v1.2h-1.2zM47.90,505.83h1.2v1.2h-1.2zM48.90,503.96h1.2v1.2h-1.2zM48.90,502.10h1.2v1.2h-1.2zM49.90,500.25h1.2v1.2h-1.2zM50.90,498.40h1.2v1.2h-1.2zM50.90,496.56h1.2v1.2h-1.2zM51.90,494.73h1.2v1.2h-1.2zM52.90,492.91h1.2v1.2h-1.2zM52.90,491.10h1.2v1.2h-1.2zM53.90,489.30h1.2v1.2h-1.2zM54.90,487.51h1.2v1.2h-1.2zM55.90,485.73h1.2v1.2h-1.2zM55.90,483.96h1.2v1.2h-1.2zM56.90,482.19h1.2v1.2h-1.2zM57.90,480.90h1.2v1.2h-1.2zM58.90,478.90h1.2v1.2h-1.2zM59.90,476.90h1.2v1.2h-1.2zM60.90,475.90h1.2v1.2h-1.2zM61.90,473.90h1.2v1.2h-1.2zM62.90,472.90h1.2v1.2h-1.2zM63.90,474.90h1.2v1.2h-1.2zM64.90,476.90h1.2v1.2h-1.2zM65.90,477.90h1.2v1.2h-1.2zM66.90,479.90h1.2v1.2h-1.2zM67.90,480.90h1.2v1.2h-1.2zM68.90,482.90h1.2v1.2h-1.2zM70.90,483.90h1.2v1.2h-1.2zM71.90,485.90h1.2v1.2h-1.2zM72.90,486.90h1.2v1.2h-1.2zM73.90,488.90h1.2v1.2h-1.2zM74.90,490.90h1.2v1.2h-1.2zM76.90,491.90h1.2v1.2h-1.2zM77.90,493.90h1.2v1.2h-1.2zM78.90,494.90h1.2v1.2h-1.2zM79.90,496.90h1.2v1.2h-1.2zM80.90,497.90h1.2v1.2h-1.2zM82.90,499.90h1.2v1.2h-1.2zM83.90,500.90h1.2v1.2h-1.2zM84.90,502.90h1.2v1.2h-1.2zM85.90,503.90h1.2v1.2h-1.2zM86.92,504.93h1.15v1.15h-1.15zM88.92,504.93h1.15v1.15h-1.15zM90.92,504.93h1.15v1.15h-1.15zM92.92,504.93h1.15v1.15h-1.15zM94.92,504.93h1.15v1.15h-1.15zM96.92,504.93h1.15v1.15h-1.15zM98.92,504.93h1.15v1.15h-1.15zM100.92,504.93h1.15v1.15h-1.15zM102.92,504.93h1.15v1.15h-1.15zM104.92,504.93h1.15v1.15h-1.15zM106.92,504.93h1.15v1.15h-1.15zM108.92,504.93h1.15v1.15h-1.15zM110.92,504.93h1.15v1.15h-1.15zM111.90,504.90h1.2v1.2h-1.2zM113.90,505.90h1.2v1.2h-1.2zM114.90,507.90h1.2v1.2h-1.2zM116.90,508.90h1.2v1.2h-1.2zM117.90,509.90h1.2v1.2h-1.2zM119.90,510.90h1.2v1.2h-1.2zM120.90,512.90h1.2v1.2h-1.2zM122.90,513.90h1.2v1.2h-1.2zM123.90,514.90h1.2v1.2h-1.2zM125.90,515.90h1.2v1.2h-1.2zM126.90,516.90h1.2v1.2h-1.2zM128.90,518.90h1.2v1.2h-1.2zM129.90,519.90h1.2v1.2h-1.2zM131.90,520.90h1.2v1.2h-1.2zM133.90,521.90h1.2v1.2h-1.2zM134.90,522.90h1.2v1.2h-1.2zM136.90,523.90h1.2v1.2h-1.2zM137.93,524.92h1.15v1.15h-1.15zM139.93,524.92h1.15v1.15h-1.15zM141.93,524.92h1.15v1.15h-1.15zM143.93,524.92h1.15v1.15h-1.15zM145.93,524.92h1.15v1.15h-1.15zM147.93,524.92h1.15v1.15h-1.15zM149.93,524.92h1.15v1.15h-1.15zM151.93,524.92h1.15v1.15h-1.15zM153.93,524.92h1.15v1.15h-1.15zM155.93,524.92h1.15v1.15h-1.15zM157.93,524.92h1.15v1.15h-1.15zM159.93,524.92h1.15v1.15h-1.15zM161.93,524.92h1.15v1.15h-1.15zM162.90,524.90h1.2v1.2h-1.2zM163.90,525.90h1.2v1.2h-1.2zM165.90,526.90h1.2v1.2h-1.2zM167.90,527.90h1.2v1.2h-1.2zM168.90,528.90h1.2v1.2h-1.2zM170.90,529.90h1.2v1.2h-1.2zM172.90,530.90h1.2v1.2h-1.2zM174.90,530.90h1.2v1.2h-1.2zM175.90,531.90h1.2v1.2h-1.2zM177.90,532.90h1.2v1.2h-1.2zM179.90,533.90h1.2v1.2h-1.2zM181.90,534.90h1.2v1.2h-1.2zM183.90,534.90h1.2v1.2h-1.2zM184.90,535.90h1.2v1.2h-1.2zM186.90,536.90h1.2v1.2h-1.2zM186.93,536.92h1.15v1.15h-1.15zM188.93,536.92h1.15v1.15h-1.15zM190.93,536.92h1.15v1.15h-1.15zM192.93,536.92h1.15v1.15h-1.15zM194.93,536.92h1.15v1.15h-1.15zM196.93,536.92h1.15v1.15h-1.15zM198.93,536.92h1.15v1.15h-1.15zM200.93,536.92h1.15v1.15h-1.15zM202.93,536.92h1.15v1.15h-1.15zM204.93,536.92h1.15v1.15h-1.15zM206.93,536.92h1.15v1.15h-1.15zM208.93,536.92h1.15v1.15h-1.15zM210.93,536.92h1.15v1.15h-1.15zM211.90,536.90h1.2v1.2h-1.2zM213.90,537.90h1.2v1.2h-1.2zM215.90,537.90h1.2v1.2h-1.2zM217.90,538.90h1.2v1.2h-1.2zM219.90,538.90h1.2v1.2h-1.2zM220.90,539.90h1.2v1.2h-1.2zM222.90,540.90h1.2v1.2h-1.2zM224.90,540.90h1.2v1.2h-1.2zM226.90,541.90h1.2v1.2h-1.2zM228.90,541.90h1.2v1.2h-1.2zM230.90,542.90h1.2v1.2h-1.2zM232.90,542.90h1.2v1.2h-1.2zM234.90,543.90h1.2v1.2h-1.2zM236.90,543.90h1.2v1.2h-1.2zM237.93,543.92h1.15v1.15h-1.15zM239.93,543.92h1.15v1.15h-1.15zM241.93,543.92h1.15v1.15h-1.15zM243.93,543.92h1.15v1.15h-1.15zM245.93,543.92h1.15v1.15h-1.15zM247.93,543.92h1.15v1.15h-1.15zM249.93,543.92h1.15v1.15h-1.15zM251.93,543.92h1.15v1.15h-1.15zM253.93,543.92h1.15v1.15h-1.15zM255.93,543.92h1.15v1.15h-1.15zM257.93,543.92h1.15v1.15h-1.15zM259.93,543.92h1.15v1.15h-1.15zM261.93,543.92h1.15v1.15h-1.15zM261.90,543.90h1.2v1.2h-1.2zM263.90,544.90h1.2v1.2h-1.2zM265.90,544.90h1.2v1.2h-1.2zM267.90,545.90h1.2v1.2h-1.2zM269.90,545.90h1.2v1.2h-1.2zM271.90,545.90h1.2v1.2h-1.2zM273.90,546.90h1.2v1.2h-1.2zM275.90,546.90h1.2v1.2h-1.2zM276.90,547.90h1.2v1.2h-1.2zM278.90,547.90h1.2v1.2h-1.2zM280.90,547.90h1.2v1.2h-1.2zM282.90,548.90h1.2v1.2h-1.2zM284.90,548.90h1.2v1.2h-1.2zM286.90,548.90h1.2v1.2h-1.2zM286.93,548.92h1.15v1.15h-1.15zM288.93,548.92h1.15v1.15h-1.15zM290.93,548.92h1.15v1.15h-1.15zM292.93,548.92h1.15v1.15h-1.15zM294.93,548.92h1.15v1.15h-1.15zM296.93,548.92h1.15v1.15h-1.15zM298.93,548.92h1.15v1.15h-1.15zM300.93,548.92h1.15v1.15h-1.15zM302.93,548.92h1.15v1.15h-1.15zM304.93,548.92h1.15v1.15h-1.15zM306.93,548.92h1.15v1.15h-1.15zM308.93,548.92h1.15v1.15h-1.15zM310.93,548.92h1.15v1.15h-1.15zM312.93,548.92h1.15v1.15h-1.15zM313.90,548.90h1.2v1.2h-1.2zM314.90,548.90h1.2v1.2h-1.2zM316.90,549.90h1.2v1.2h-1.2zM318.90,549.90h1.2v1.2h-1.2zM320.90,549.90h1.2v1.2h-1.2zM322.90,550.90h1.2v1.2h-1.2zM324.90,550.90h1.2v1.2h-1.2zM326.90,550.90h1.2v1.2h-1.2zM328.90,550.90h1.2v1.2h-1.2zM330.90,551.90h1.2v1.2h-1.2z" fill="#111"/>
<path d="M356.90,555.00h1.2v1.2h-1.2zM357.90,553.07h1.2v1.2h-1.2zM357.90,551.15h1.2v1.2h-1.2zM357.90,549.22h1.2v1.2h-1.2zM358.90,547.30h1.2v1.2h-1.2zM358.90,545.37h1.2v1.2h-1.2zM358.90,543.46h1.2v1.2h-1.2zM359.90,541.54h1.2v1.2h-1.2zM359.90,539.63h1.2v1.2h-1.2zM360.90,537.73h1.2v1.2h-1.2zM360.90,535.84h1.2v1.2h-1.2zM360.90,533.96h1.2v1.2h-1.2zM361.90,532.08h1.2v1.2h-1.2zM362.90,530.22h1.2v1.2h-1.2zM362.90,528.38h1.2v1.2h-1.2zM363.90,526.57h1.2v1.2h-1.2zM364.90,524.90h1.2v1.2h-1.2zM365.90,525.90h1.2v1.2h-1.2zM367.90,526.90h1.2v1.2h-1.2zM369.90,527.90h1.2v1.2h-1.2zM371.90,528.90h1.2v1.2h-1.2zM372.90,529.90h1.2v1.2h-1.2zM374.90,530.90h1.2v1.2h-1.2zM376.90,531.90h1.2v1.2h-1.2zM378.90,532.90h1.2v1.2h-1.2zM379.90,532.90h1.2v1.2h-1.2zM381.90,533.90h1.2v1.2h-1.2zM383.90,534.90h1.2v1.2h-1.2zM385.90,535.90h1.2v1.2h-1.2zM386.90,536.90h1.2v1.2h-1.2zM388.93,536.92h1.15v1.15h-1.15zM390.93,536.92h1.15v1.15h-1.15zM392.93,536.92h1.15v1.15h-1.15zM394.93,536.92h1.15v1.15h-1.15zM396.93,536.92h1.15v1.15h-1.15zM398.93,536.92h1.15v1.15h-1.15zM400.93,536.92h1.15v1.15h-1.15zM402.93,536.92h1.15v1.15h-1.15zM404.93,536.92h1.15v1.15h-1.15zM406.93,536.92h1.15v1.15h-1.15zM408.93,536.92h1.15v1.15h-1.15zM410.93,536.92h1.15v1.15h-1.15zM412.93,536.92h1.15v1.15h-1.15zM414.90,536.90h1.2v1.2h-1.2zM416.90,537.90h1.2v1.2h-1.2zM417.90,538.90h1.2v1.2h-1.2zM419.90,538.90h1.2v1.2h-1.2zM421.90,539.90h1.2v1.2h-1.2zM423.90,539.90h1.2v1.2h-1.2zM425.90,540.90h1.2v1.2h-1.2zM427.90,540.90h1.2v1.2h-1.2zM429.90,541.90h1.2v1.2h-1.2zM430.90,542.90h1.2v1.2h-1.2zM432.90,542.90h1.2v1.2h-1.2zM434.90,543.90h1.2v1.2h-1.2zM436.90,543.90h1.2v1.2h-1.2zM438.90,544.90h1.2v1.2h-1.2zM439.93,544.92h1.15v1.15h-1.15zM441.93,544.92h1.15v1.15h-1.15zM443.93,544.92h1.15v1.15h-1.15zM445.93,544.92h1.15v1.15h-1.15zM447.93,544.92h1.15v1.15h-1.15zM449.93,544.92h1.15v1.15h-1.15zM451.93,544.92h1.15v1.15h-1.15zM453.93,544.92h1.15v1.15h-1.15zM455.93,544.92h1.15v1.15h-1.15zM457.93,544.92h1.15v1.15h-1.15zM459.93,544.92h1.15v1.15h-1.15zM461.93,544.92h1.15v1.15h-1.15zM463.93,544.92h1.15v1.15h-1.15zM465.90,544.90h1.2v1.2h-1.2zM466.90,544.90h1.2v1.2h-1.2zM468.90,545.90h1.2v1.2h-1.2zM470.90,545.90h1.2v1.2h-1.2zM472.90,545.90h1.2v1.2h-1.2zM474.90,546.90h1.2v1.2h-1.2zM476.90,546.90h1.2v1.2h-1.2zM478.90,546.90h1.2v1.2h-1.2zM480.90,547.90h1.2v1.2h-1.2zM482.90,547.90h1.2v1.2h-1.2zM484.90,547.90h1.2v1.2h-1.2zM486.90,548.90h1.2v1.2h-1.2zM488.90,548.90h1.2v1.2h-1.2zM489.93,548.92h1.15v1.15h-1.15zM491.93,548.92h1.15v1.15h-1.15zM493.93,548.92h1.15v1.15h-1.15zM495.93,548.92h1.15v1.15h-1.15zM497.93,548.92h1.15v1.15h-1.15zM499.93,548.92h1.15v1.15h-1.15zM501.93,548.92h1.15v1.15h-1.15zM503.93,548.92h1.15v1.15h-1.15zM505.93,548.92h1.15v1.15h-1.15zM507.93,548.92h1.15v1.15h-1.15zM509.93,548.92h1.15v1.15h-1.15zM511.93,548.92h1.15v1.15h-1.15zM513.92,548.92h1.15v1.15h-1.15zM514.90,548.90h1.2v1.2h-1.2zM515.90,548.90h1.2v1.2h-1.2zM517.90,549.90h1.2v1.2h-1.2zM519.90,549.90h1.2v1.2h-1.2zM521.90,549.90h1.2v1.2h-1.2zM523.90,549.90h1.2v1.2h-1.2zM525.90,550.90h1.2v1.2h-1.2zM527.90,550.90h1.2v1.2h-1.2zM529.90,550.90h1.2v1.2h-1.2zM531.90,550.90h1.2v1.2h-1.2zM533.90,551.90h1.2v1.2h-1.2zM535.90,551.90h1.2v1.2h-1.2z" fill="#111"/>
<path d="M63.40,629.80 L64.10,616.30 L64.80,603.83 L65.50,592.61 L66.20,582.84 L66.90,574.77 L67.60,568.36 L68.30,562.95 L69.00,558.27 L69.70,554.07 L70.40,550.10 L71.10,546.19 L71.80,542.38 L72.50,538.78 L73.20,535.50 L73.90,532.63 L74.60,530.29 L75.30,528.38 L76.00,526.65 L76.70,525.07 L77.40,523.65 L78.10,522.39 L78.80,521.27 L79.50,520.29 L80.20,519.45 L80.90,518.66 L81.60,517.94 L82.30,517.28 L83.00,516.71 L83.70,516.23 L84.40,515.88 L85.10,515.62 L85.80,515.38 L86.50,515.18 L87.20,515.05 L87.90,515.00 L88.59,518.47 L89.28,521.83 L89.97,525.08 L90.66,528.21 L91.35,531.23 L92.04,534.15 L92.72,536.97 L93.41,539.69 L94.10,542.32 L94.79,544.85 L95.48,547.30 L96.17,549.66 L96.86,551.95 L97.55,554.15 L98.24,556.28 L98.93,558.33 L99.62,560.31 L100.31,562.23 L100.99,564.08 L101.68,565.86 L102.37,567.58 L103.06,569.25 L103.75,570.85 L104.44,572.40 L105.13,573.90 L105.82,575.34 L106.51,576.74 L107.20,578.09 L107.89,579.39 L108.58,580.64 L109.26,581.86 L109.95,583.03 L110.64,584.16 L111.33,585.25 L112.02,586.30 L112.71,587.32 L113.40,588.30 L114.09,583.48 L114.77,578.98 L115.46,574.84 L116.14,571.06 L116.83,567.57 L117.52,564.36 L118.20,561.42 L118.89,558.70 L119.58,556.20 L120.26,553.91 L120.95,551.80 L121.63,549.85 L122.32,548.06 L123.01,546.42 L123.69,544.90 L124.38,543.50 L125.06,542.23 L125.75,541.04 L126.44,539.96 L127.12,538.96 L127.81,538.04 L128.49,537.20 L129.18,536.42 L129.87,535.71 L130.55,535.05 L131.24,534.44 L131.93,533.88 L132.61,533.37 L133.30,532.90 L133.98,532.47 L134.67,532.07 L135.36,531.70 L136.04,531.36 L136.73,531.05 L137.41,530.76 L138.10,530.50 L138.79,533.36 L139.47,536.13 L140.16,538.81 L140.85,541.38 L141.53,543.88 L142.22,546.28 L142.91,548.60 L143.59,550.84 L144.28,553.01 L144.96,555.10 L145.65,557.11 L146.34,559.06 L147.02,560.94 L147.71,562.76 L148.40,564.51 L149.08,566.20 L149.77,567.84 L150.46,569.41 L151.14,570.94 L151.83,572.41 L152.52,573.83 L153.20,575.20 L153.89,576.52 L154.58,577.80 L155.26,579.03 L155.95,580.22 L156.64,581.37 L157.32,582.48 L158.01,583.56 L158.69,584.59 L159.38,585.59 L160.07,586.55 L160.75,587.49 L161.44,588.38 L162.13,589.25 L162.81,590.09 L163.50,590.90 L164.19,586.69 L164.89,582.77 L165.58,579.18 L166.28,575.91 L166.97,572.89 L167.67,570.12 L168.36,567.59 L169.05,565.26 L169.75,563.11 L170.44,561.16 L171.14,559.36 L171.83,557.70 L172.53,556.19 L173.22,554.79 L173.91,553.51 L174.61,552.34 L175.30,551.26 L176.00,550.27 L176.69,549.37 L177.39,548.53 L178.08,547.77 L178.77,547.07 L179.47,546.42 L180.16,545.83 L180.86,545.29 L181.55,544.79 L182.25,544.33 L182.94,543.91 L183.63,543.53 L184.33,543.18 L185.02,542.85 L185.72,542.55 L186.41,542.28 L187.11,542.03 L187.80,541.80 L188.49,544.23 L189.18,546.57 L189.87,548.84 L190.56,551.03 L191.25,553.14 L191.94,555.18 L192.62,557.15 L193.31,559.05 L194.00,560.88 L194.69,562.65 L195.38,564.36 L196.07,566.01 L196.76,567.61 L197.45,569.14 L198.14,570.63 L198.83,572.07 L199.52,573.45 L200.21,574.79 L200.89,576.08 L201.58,577.33 L202.27,578.53 L202.96,579.69 L203.65,580.81 L204.34,581.89 L205.03,582.94 L205.72,583.95 L206.41,584.92 L207.10,585.87 L207.79,586.77 L208.48,587.65 L209.16,588.50 L209.85,589.32 L210.54,590.11 L211.23,590.87 L211.92,591.60 L212.61,592.32 L213.30,593.00 L213.99,589.29 L214.67,585.83 L215.36,582.64 L216.04,579.73 L216.73,577.04 L217.42,574.57 L218.10,572.31 L218.79,570.21 L219.48,568.29 L220.16,566.52 L220.85,564.90 L221.53,563.40 L222.22,562.02 L222.91,560.75 L223.59,559.59 L224.28,558.51 L224.96,557.53 L225.65,556.62 L226.34,555.78 L227.02,555.01 L227.71,554.31 L228.39,553.65 L229.08,553.06 L229.77,552.51 L230.45,552.00 L231.14,551.53 L231.82,551.11 L232.51,550.71 L233.20,550.35 L233.88,550.01 L234.57,549.71 L235.26,549.42 L235.94,549.16 L236.63,548.92 L237.31,548.70 L238.00,548.50 L238.70,550.73 L239.41,552.88 L240.11,554.96 L240.81,556.97 L241.51,558.90 L242.22,560.76 L242.92,562.56 L243.62,564.30 L244.32,565.97 L245.03,567.58 L245.73,569.14 L246.43,570.64 L247.14,572.09 L247.84,573.48 L248.54,574.83 L249.24,576.13 L249.95,577.38 L250.65,578.59 L251.35,579.76 L252.06,580.88 L252.76,581.97 L253.46,583.01 L254.16,584.02 L254.87,584.99 L255.57,585.93 L256.27,586.84 L256.98,587.71 L257.68,588.55 L258.38,589.37 L259.08,590.15 L259.79,590.90 L260.49,591.63 L261.19,592.34 L261.89,593.02 L262.60,593.67 L263.30,594.30 L263.99,590.86 L264.69,587.64 L265.38,584.68 L266.08,581.98 L266.77,579.49 L267.47,577.19 L268.16,575.09 L268.86,573.15 L269.55,571.36 L270.24,569.73 L270.94,568.22 L271.63,566.82 L272.33,565.55 L273.02,564.37 L273.72,563.29 L274.41,562.29 L275.11,561.38 L275.80,560.53 L276.49,559.76 L277.19,559.05 L277.88,558.39 L278.58,557.78 L279.27,557.23 L279.97,556.72 L280.66,556.25 L281.36,555.81 L282.05,555.42 L282.74,555.05 L283.44,554.71 L284.13,554.40 L284.83,554.12 L285.52,553.86 L286.22,553.61 L286.91,553.39 L287.61,553.19 L288.30,553.00 L288.99,555.06 L289.68,557.05 L290.38,558.97 L291.07,560.82 L291.76,562.61 L292.45,564.33 L293.14,565.99 L293.83,567.59 L294.52,569.13 L295.22,570.62 L295.91,572.06 L296.60,573.45 L297.29,574.78 L297.98,576.07 L298.68,577.32 L299.37,578.52 L300.06,579.67 L300.75,580.79 L301.44,581.87 L302.13,582.91 L302.82,583.91 L303.52,584.87 L304.21,585.81 L304.90,586.70 L305.59,587.57 L306.28,588.41 L306.98,589.21 L307.67,589.99 L308.36,590.74 L309.05,591.47 L309.74,592.16 L310.43,592.84 L311.12,593.49 L311.82,594.11 L312.51,594.72 L313.20,595.30 L313.89,592.02 L314.59,588.96 L315.28,586.15 L315.98,583.58 L316.67,581.20 L317.37,579.02 L318.06,577.02 L318.76,575.17 L319.45,573.47 L320.14,571.91 L320.84,570.47 L321.53,569.15 L322.23,567.93 L322.92,566.81 L323.62,565.78 L324.31,564.83 L325.01,563.96 L325.70,563.16 L326.39,562.42 L327.09,561.74 L327.78,561.12 L328.48,560.54 L329.17,560.01 L329.87,559.53 L330.56,559.08 L331.26,558.67 L331.95,558.29 L332.64,557.94 L333.34,557.62 L334.03,557.32" fill="none" stroke="#222" stroke-width="1.1"/>
<path d="M366.80,611.50 L367.50,597.32 L368.20,585.08 L368.90,575.71 L369.60,569.58 L370.30,564.78 L371.00,561.08 L371.70,558.50 L372.40,556.64 L373.10,555.05 L373.80,553.67 L374.50,552.47 L375.20,551.43 L375.90,550.49 L376.60,549.63 L377.30,548.80 L378.00,547.99 L378.70,547.20 L379.40,546.45 L380.10,545.75 L380.80,545.10 L381.50,544.50 L382.20,543.98 L382.90,543.54 L383.60,543.18 L384.30,542.90 L385.00,542.63 L385.70,542.37 L386.40,542.13 L387.10,541.92 L387.80,541.75 L388.50,541.61 L389.20,541.53 L389.90,541.50 L390.59,543.94 L391.27,546.31 L391.96,548.60 L392.65,550.80 L393.33,552.93 L394.02,554.98 L394.71,556.96 L395.39,558.88 L396.08,560.73 L396.76,562.51 L397.45,564.24 L398.14,565.90 L398.82,567.51 L399.51,569.06 L400.20,570.56 L400.88,572.00 L401.57,573.40 L402.26,574.75 L402.94,576.05 L403.63,577.30 L404.32,578.52 L405.00,579.69 L405.69,580.82 L406.38,581.91 L407.06,582.96 L407.75,583.98 L408.44,584.96 L409.12,585.91 L409.81,586.83 L410.49,587.71 L411.18,588.56 L411.87,589.39 L412.55,590.18 L413.24,590.95 L413.93,591.69 L414.61,592.41 L415.30,593.10 L415.99,589.41 L416.68,585.97 L417.38,582.81 L418.07,579.92 L418.76,577.25 L419.45,574.79 L420.14,572.55 L420.83,570.47 L421.52,568.55 L422.22,566.80 L422.91,565.19 L423.60,563.69 L424.29,562.33 L424.98,561.07 L425.68,559.91 L426.37,558.84 L427.06,557.87 L427.75,556.96 L428.44,556.13 L429.13,555.37 L429.82,554.67 L430.52,554.02 L431.21,553.43 L431.90,552.88 L432.59,552.38 L433.28,551.91 L433.98,551.49 L434.67,551.09 L435.36,550.73 L436.05,550.40 L436.74,550.10 L437.43,549.82 L438.12,549.56 L438.82,549.32 L439.51,549.10 L440.20,548.90 L440.90,551.11 L441.59,553.25 L442.29,555.31 L442.99,557.29 L443.69,559.21 L444.38,561.06 L445.08,562.84 L445.78,564.56 L446.48,566.22 L447.17,567.82 L447.87,569.36 L448.57,570.85 L449.26,572.28 L449.96,573.66 L450.66,575.00 L451.36,576.29 L452.05,577.53 L452.75,578.73 L453.45,579.88 L454.14,581.00 L454.84,582.07 L455.54,583.11 L456.24,584.11 L456.93,585.07 L457.63,586.01 L458.33,586.90 L459.02,587.77 L459.72,588.60 L460.42,589.41 L461.12,590.18 L461.81,590.93 L462.51,591.66 L463.21,592.35 L463.91,593.03 L464.60,593.68 L465.30,594.30 L465.99,590.93 L466.68,587.78 L467.37,584.87 L468.06,582.21 L468.75,579.75 L469.44,577.47 L470.12,575.39 L470.81,573.46 L471.50,571.68 L472.19,570.04 L472.88,568.53 L473.57,567.13 L474.26,565.85 L474.95,564.66 L475.64,563.57 L476.33,562.56 L477.02,561.63 L477.71,560.78 L478.39,559.98 L479.08,559.25 L479.77,558.58 L480.46,557.96 L481.15,557.39 L481.84,556.87 L482.53,556.38 L483.22,555.93 L483.91,555.52 L484.60,555.14 L485.29,554.78 L485.98,554.46 L486.66,554.16 L487.35,553.89 L488.04,553.63 L488.73,553.40 L489.42,553.18 L490.11,552.98 L490.80,552.80 L491.49,554.88 L492.18,556.89 L492.87,558.83 L493.56,560.69 L494.24,562.50 L494.93,564.23 L495.62,565.91 L496.31,567.53 L497.00,569.09 L497.69,570.59 L498.38,572.04 L499.07,573.44 L499.76,574.79 L500.44,576.09 L501.13,577.35 L501.82,578.56 L502.51,579.73 L503.20,580.85 L503.89,581.94 L504.58,582.99 L505.27,584.00 L505.96,584.98 L506.64,585.92 L507.33,586.82 L508.02,587.70 L508.71,588.54 L509.40,589.36 L510.09,590.14 L510.78,590.90 L511.47,591.63 L512.16,592.33 L512.84,593.01 L513.53,593.67 L514.22,594.30 L514.91,594.91 L515.60,595.50 L516.29,592.22 L516.99,589.15 L517.68,586.33 L518.38,583.76 L519.07,581.38 L519.77,579.19 L520.46,577.19 L521.16,575.34 L521.85,573.64 L522.54,572.07 L523.24,570.64 L523.93,569.31 L524.63,568.09 L525.32,566.97 L526.02,565.94 L526.71,564.99 L527.41,564.12 L528.10,563.31 L528.79,562.57 L529.49,561.89 L530.18,561.27 L530.88,560.69 L531.57,560.16 L532.27,559.67 L532.96,559.22 L533.66,558.81 L534.35,558.43 L535.04,558.08 L535.74,557.76 L536.43,557.47" fill="none" stroke="#222" stroke-width="1.1"/>
</svg>
</body></html>
